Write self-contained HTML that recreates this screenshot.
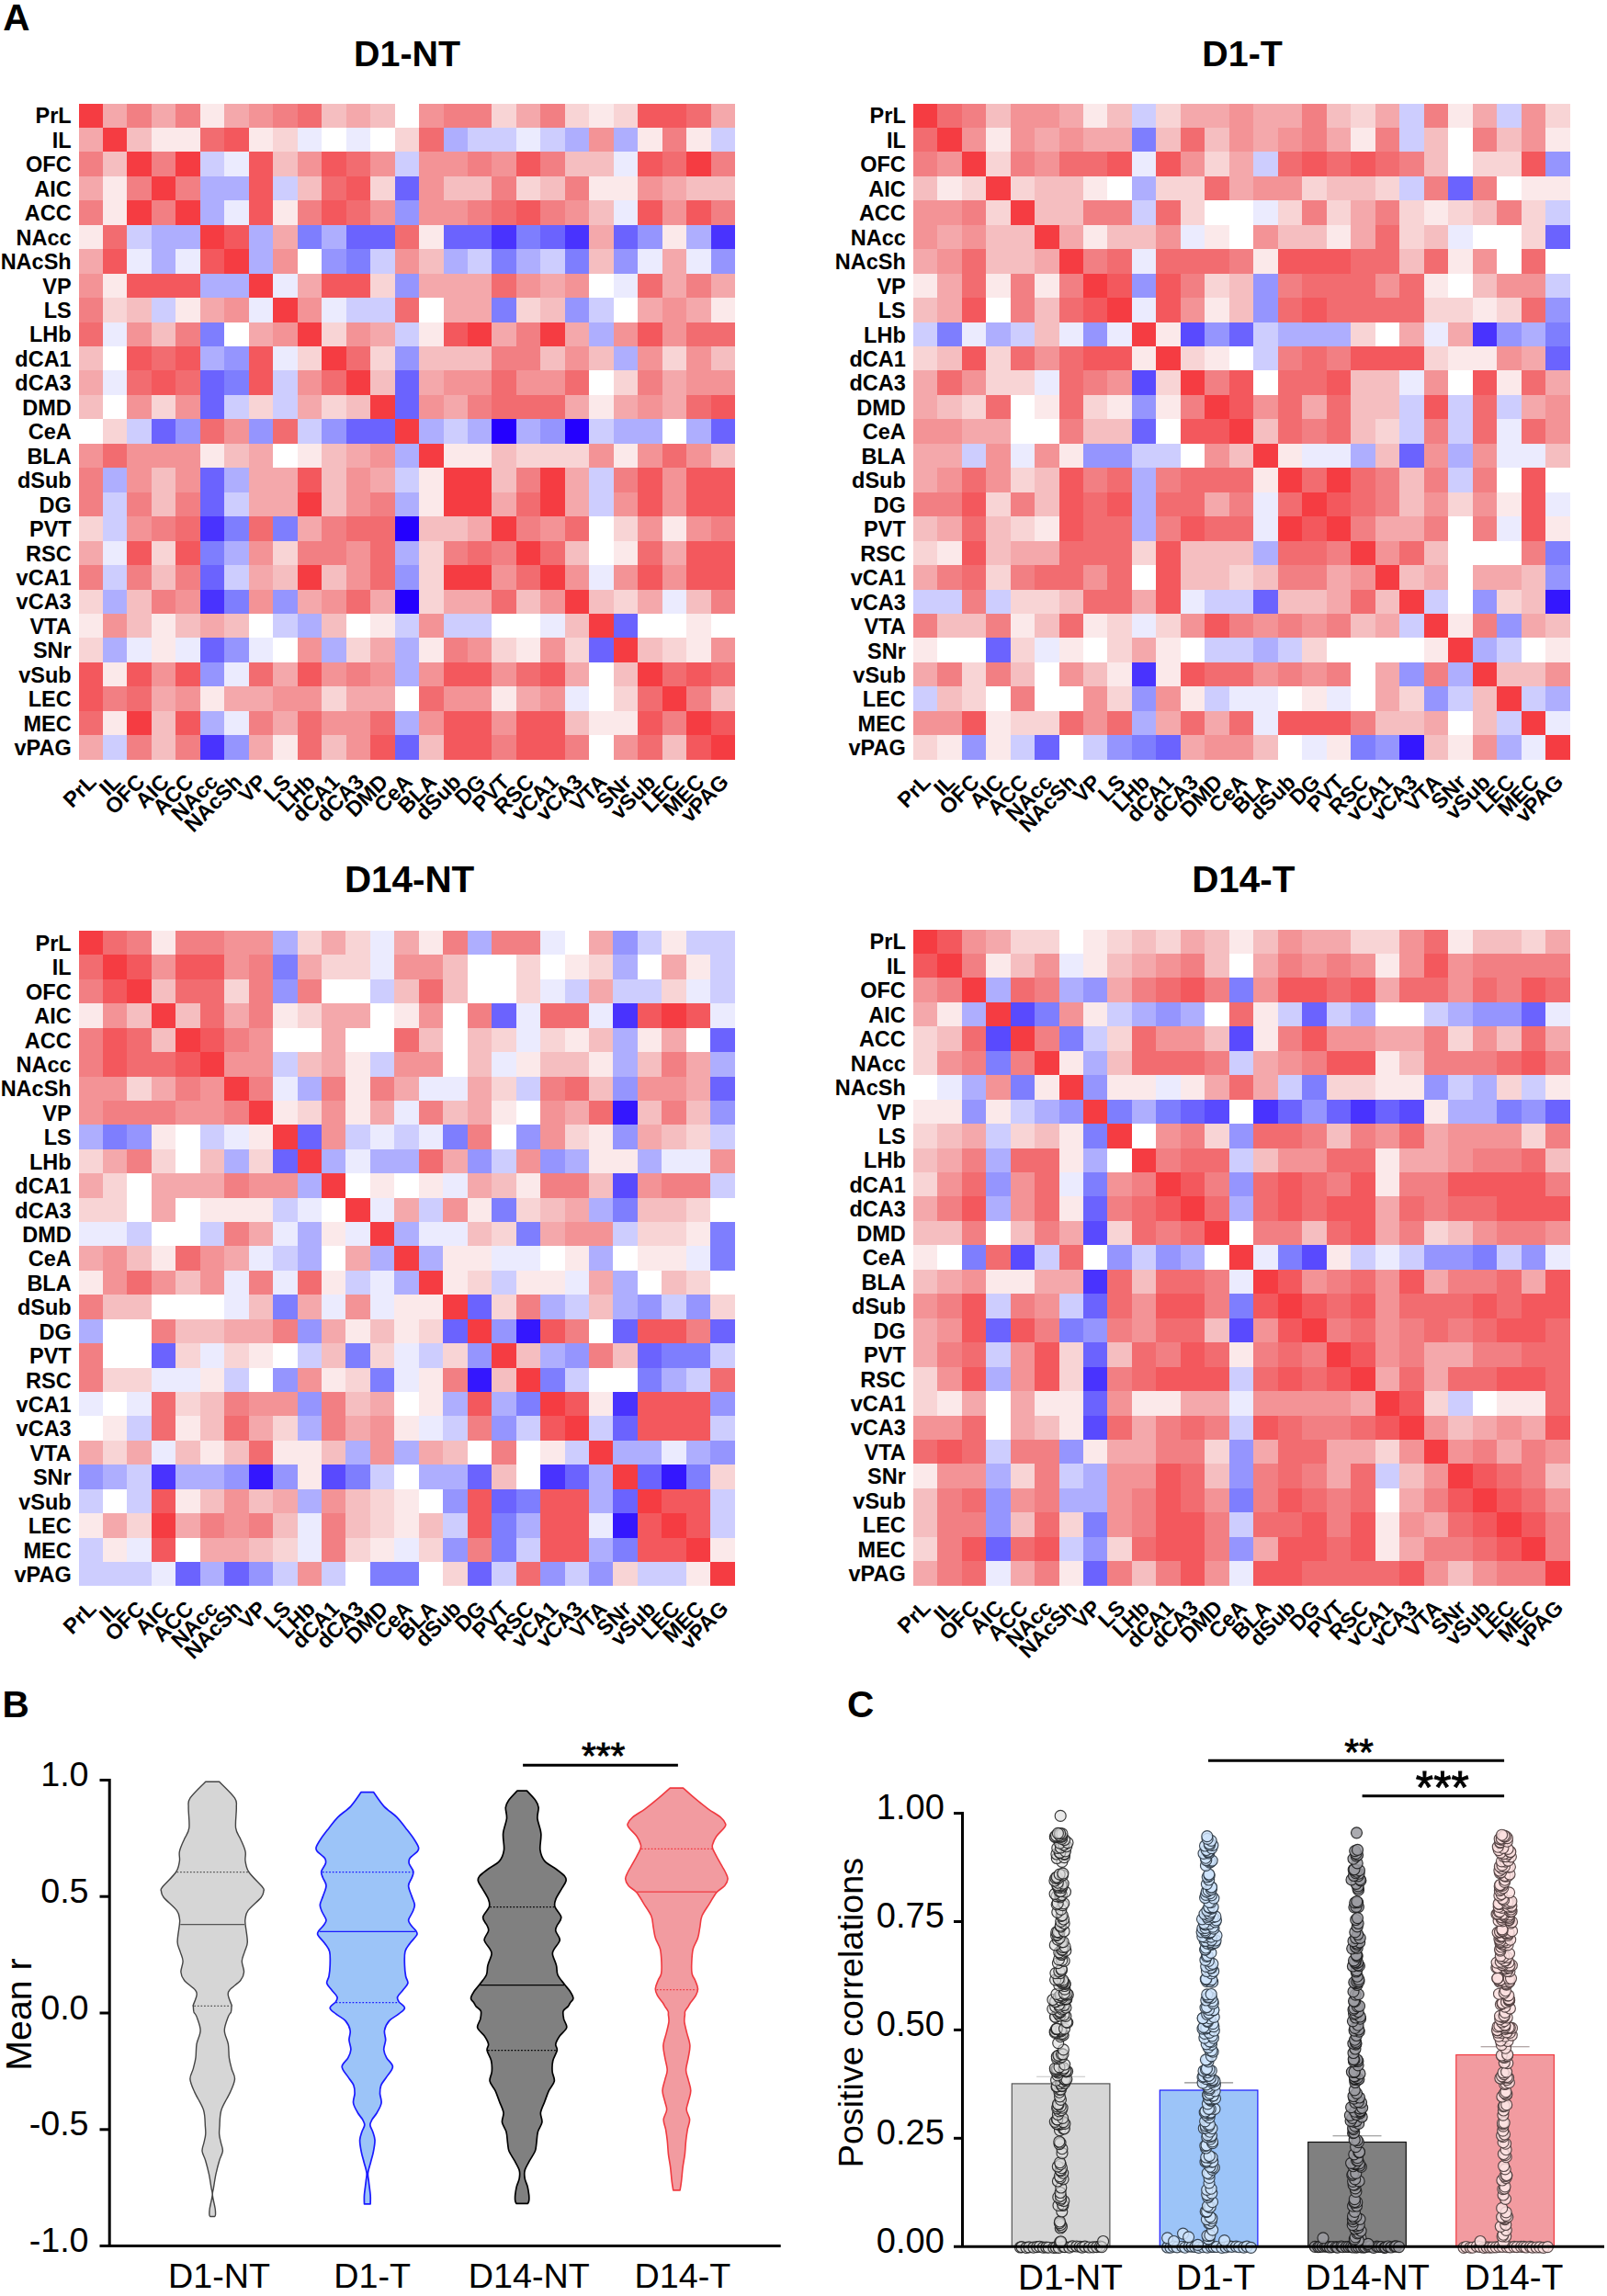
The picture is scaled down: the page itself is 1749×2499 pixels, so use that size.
<!DOCTYPE html><html><head><meta charset="utf-8"><title>Figure</title><style>
html,body{margin:0;padding:0;background:#fff}
body{width:1749px;height:2499px;position:relative;overflow:hidden;font-family:"Liberation Sans",sans-serif}
.hm{position:absolute;display:grid}
.hm i{display:block}
.n9{background:#3417fe}
.n8{background:#4933fe}
.n7{background:#594afe}
.n6{background:#6b63fe}
.n5{background:#7e7efe}
.n4{background:#9595fe}
.n3{background:#aeaefe}
.n2{background:#cdcdfe}
.n1{background:#ebebfe}
.p0{background:#ffffff}
.p1{background:#fbe9ea}
.p2{background:#f8d4d5}
.p3{background:#f5bec0}
.p4{background:#f4a8ab}
.p5{background:#f39396}
.p6{background:#f27f83}
.p7{background:#f26c70}
.p8{background:#f3585d}
.p9{background:#f53c42}
.n9x{background:#2400fe}
svg{position:absolute;left:0;top:0}
text{font-family:"Liberation Sans",sans-serif;fill:#000}
.b{font-weight:bold}
</style></head><body>
<div class="hm" style="left:85.5px;top:112.5px;width:714.800px;grid-template-columns:repeat(27,26.4741px);grid-auto-rows:26.4556px"><i class="p9"></i><i class="p4"></i><i class="p6"></i><i class="p4"></i><i class="p6"></i><i class="p1"></i><i class="p4"></i><i class="p5"></i><i class="p6"></i><i class="p7"></i><i class="p3"></i><i class="p4"></i><i class="p3"></i><i class="p0"></i><i class="p5"></i><i class="p6"></i><i class="p6"></i><i class="p2"></i><i class="p4"></i><i class="p6"></i><i class="p2"></i><i class="p1"></i><i class="p2"></i><i class="p8"></i><i class="p8"></i><i class="p7"></i><i class="p4"></i><i class="p4"></i><i class="p9"></i><i class="p3"></i><i class="p1"></i><i class="p1"></i><i class="p7"></i><i class="p8"></i><i class="p1"></i><i class="p2"></i><i class="n1"></i><i class="p0"></i><i class="n1"></i><i class="p0"></i><i class="p2"></i><i class="p7"></i><i class="n3"></i><i class="n2"></i><i class="n2"></i><i class="n1"></i><i class="n2"></i><i class="n3"></i><i class="p5"></i><i class="n3"></i><i class="p1"></i><i class="p6"></i><i class="p1"></i><i class="n2"></i><i class="p6"></i><i class="p3"></i><i class="p9"></i><i class="p6"></i><i class="p9"></i><i class="n2"></i><i class="n1"></i><i class="p8"></i><i class="p3"></i><i class="p5"></i><i class="p8"></i><i class="p7"></i><i class="p5"></i><i class="n2"></i><i class="p5"></i><i class="p5"></i><i class="p6"></i><i class="p5"></i><i class="p8"></i><i class="p6"></i><i class="p3"></i><i class="p3"></i><i class="n1"></i><i class="p8"></i><i class="p7"></i><i class="p9"></i><i class="p6"></i><i class="p4"></i><i class="p1"></i><i class="p6"></i><i class="p9"></i><i class="p6"></i><i class="n3"></i><i class="n3"></i><i class="p8"></i><i class="n2"></i><i class="p3"></i><i class="p7"></i><i class="p8"></i><i class="p2"></i><i class="n6"></i><i class="p5"></i><i class="p3"></i><i class="p3"></i><i class="p6"></i><i class="p2"></i><i class="p3"></i><i class="p6"></i><i class="p1"></i><i class="p1"></i><i class="p5"></i><i class="p4"></i><i class="p3"></i><i class="p3"></i><i class="p6"></i><i class="p1"></i><i class="p9"></i><i class="p6"></i><i class="p9"></i><i class="n3"></i><i class="n1"></i><i class="p8"></i><i class="p1"></i><i class="p6"></i><i class="p8"></i><i class="p7"></i><i class="p5"></i><i class="n4"></i><i class="p5"></i><i class="p5"></i><i class="p6"></i><i class="p7"></i><i class="p8"></i><i class="p6"></i><i class="p5"></i><i class="p3"></i><i class="n1"></i><i class="p8"></i><i class="p5"></i><i class="p8"></i><i class="p6"></i><i class="p1"></i><i class="p7"></i><i class="n2"></i><i class="n3"></i><i class="n3"></i><i class="p9"></i><i class="p8"></i><i class="n3"></i><i class="p4"></i><i class="n5"></i><i class="n3"></i><i class="n6"></i><i class="n6"></i><i class="p7"></i><i class="p1"></i><i class="n6"></i><i class="n6"></i><i class="n8"></i><i class="n5"></i><i class="n6"></i><i class="n8"></i><i class="p4"></i><i class="n6"></i><i class="n4"></i><i class="p1"></i><i class="n3"></i><i class="n8"></i><i class="p4"></i><i class="p8"></i><i class="n1"></i><i class="n3"></i><i class="n1"></i><i class="p8"></i><i class="p9"></i><i class="n3"></i><i class="p5"></i><i class="p0"></i><i class="n4"></i><i class="n5"></i><i class="n2"></i><i class="p5"></i><i class="p3"></i><i class="n3"></i><i class="n2"></i><i class="n5"></i><i class="n3"></i><i class="n2"></i><i class="n5"></i><i class="p3"></i><i class="n4"></i><i class="n1"></i><i class="p4"></i><i class="n1"></i><i class="n4"></i><i class="p5"></i><i class="p1"></i><i class="p8"></i><i class="p8"></i><i class="p8"></i><i class="n3"></i><i class="n3"></i><i class="p9"></i><i class="n1"></i><i class="p4"></i><i class="p8"></i><i class="p8"></i><i class="p2"></i><i class="n4"></i><i class="p4"></i><i class="p4"></i><i class="p4"></i><i class="p7"></i><i class="p5"></i><i class="p4"></i><i class="p5"></i><i class="p0"></i><i class="n1"></i><i class="p7"></i><i class="p4"></i><i class="p6"></i><i class="p4"></i><i class="p6"></i><i class="p2"></i><i class="p3"></i><i class="n2"></i><i class="p1"></i><i class="p4"></i><i class="p5"></i><i class="n1"></i><i class="p9"></i><i class="p5"></i><i class="n1"></i><i class="n2"></i><i class="n2"></i><i class="p7"></i><i class="p0"></i><i class="p4"></i><i class="p4"></i><i class="n5"></i><i class="p2"></i><i class="p3"></i><i class="n4"></i><i class="n2"></i><i class="p0"></i><i class="p4"></i><i class="p5"></i><i class="p4"></i><i class="p1"></i><i class="p7"></i><i class="n1"></i><i class="p5"></i><i class="p3"></i><i class="p6"></i><i class="n5"></i><i class="p0"></i><i class="p4"></i><i class="p5"></i><i class="p9"></i><i class="p2"></i><i class="p5"></i><i class="p4"></i><i class="n2"></i><i class="p1"></i><i class="p8"></i><i class="p9"></i><i class="p4"></i><i class="p6"></i><i class="p9"></i><i class="p4"></i><i class="n3"></i><i class="p5"></i><i class="p8"></i><i class="p5"></i><i class="p7"></i><i class="p7"></i><i class="p3"></i><i class="p0"></i><i class="p8"></i><i class="p7"></i><i class="p8"></i><i class="n3"></i><i class="n4"></i><i class="p8"></i><i class="n1"></i><i class="p2"></i><i class="p9"></i><i class="p7"></i><i class="p2"></i><i class="n4"></i><i class="p3"></i><i class="p3"></i><i class="p3"></i><i class="p6"></i><i class="p6"></i><i class="p3"></i><i class="p5"></i><i class="p3"></i><i class="n3"></i><i class="p5"></i><i class="p2"></i><i class="p5"></i><i class="p3"></i><i class="p4"></i><i class="n1"></i><i class="p7"></i><i class="p8"></i><i class="p7"></i><i class="n6"></i><i class="n5"></i><i class="p8"></i><i class="n2"></i><i class="p5"></i><i class="p7"></i><i class="p9"></i><i class="p3"></i><i class="n6"></i><i class="p4"></i><i class="p5"></i><i class="p5"></i><i class="p7"></i><i class="p5"></i><i class="p5"></i><i class="p7"></i><i class="p0"></i><i class="p2"></i><i class="p6"></i><i class="p4"></i><i class="p5"></i><i class="p5"></i><i class="p3"></i><i class="p0"></i><i class="p5"></i><i class="p2"></i><i class="p5"></i><i class="n6"></i><i class="n2"></i><i class="p2"></i><i class="n2"></i><i class="p4"></i><i class="p2"></i><i class="p3"></i><i class="p9"></i><i class="n6"></i><i class="p5"></i><i class="p4"></i><i class="p6"></i><i class="p7"></i><i class="p7"></i><i class="p7"></i><i class="p4"></i><i class="p1"></i><i class="p4"></i><i class="p5"></i><i class="p4"></i><i class="p7"></i><i class="p8"></i><i class="p0"></i><i class="p2"></i><i class="n2"></i><i class="n6"></i><i class="n4"></i><i class="p7"></i><i class="p5"></i><i class="n4"></i><i class="p7"></i><i class="n2"></i><i class="n4"></i><i class="n6"></i><i class="n6"></i><i class="p9"></i><i class="n3"></i><i class="n2"></i><i class="n3"></i><i class="n9x"></i><i class="n3"></i><i class="n4"></i><i class="n9x"></i><i class="n2"></i><i class="n3"></i><i class="n3"></i><i class="p0"></i><i class="n3"></i><i class="n6"></i><i class="p5"></i><i class="p7"></i><i class="p5"></i><i class="p5"></i><i class="p5"></i><i class="p1"></i><i class="p3"></i><i class="p4"></i><i class="p0"></i><i class="p1"></i><i class="p3"></i><i class="p4"></i><i class="p5"></i><i class="n3"></i><i class="p9"></i><i class="p1"></i><i class="p1"></i><i class="p3"></i><i class="p2"></i><i class="p2"></i><i class="p2"></i><i class="p5"></i><i class="p1"></i><i class="p5"></i><i class="p7"></i><i class="p5"></i><i class="p3"></i><i class="p6"></i><i class="n3"></i><i class="p5"></i><i class="p3"></i><i class="p5"></i><i class="n6"></i><i class="n3"></i><i class="p4"></i><i class="p4"></i><i class="p8"></i><i class="p3"></i><i class="p5"></i><i class="p4"></i><i class="n2"></i><i class="p1"></i><i class="p9"></i><i class="p9"></i><i class="p3"></i><i class="p6"></i><i class="p9"></i><i class="p4"></i><i class="n2"></i><i class="p6"></i><i class="p8"></i><i class="p5"></i><i class="p8"></i><i class="p8"></i><i class="p6"></i><i class="n2"></i><i class="p6"></i><i class="p3"></i><i class="p6"></i><i class="n6"></i><i class="n2"></i><i class="p4"></i><i class="p4"></i><i class="p9"></i><i class="p3"></i><i class="p5"></i><i class="p6"></i><i class="n3"></i><i class="p1"></i><i class="p9"></i><i class="p9"></i><i class="p4"></i><i class="p7"></i><i class="p9"></i><i class="p4"></i><i class="n2"></i><i class="p5"></i><i class="p8"></i><i class="p5"></i><i class="p8"></i><i class="p8"></i><i class="p2"></i><i class="n2"></i><i class="p5"></i><i class="p6"></i><i class="p7"></i><i class="n8"></i><i class="n5"></i><i class="p7"></i><i class="n5"></i><i class="p4"></i><i class="p6"></i><i class="p7"></i><i class="p7"></i><i class="n9x"></i><i class="p3"></i><i class="p3"></i><i class="p4"></i><i class="p9"></i><i class="p6"></i><i class="p5"></i><i class="p7"></i><i class="p0"></i><i class="p2"></i><i class="p5"></i><i class="p1"></i><i class="p5"></i><i class="p6"></i><i class="p4"></i><i class="n1"></i><i class="p8"></i><i class="p2"></i><i class="p8"></i><i class="n5"></i><i class="n3"></i><i class="p5"></i><i class="p2"></i><i class="p6"></i><i class="p6"></i><i class="p5"></i><i class="p7"></i><i class="n3"></i><i class="p2"></i><i class="p6"></i><i class="p7"></i><i class="p6"></i><i class="p9"></i><i class="p7"></i><i class="p3"></i><i class="p0"></i><i class="p1"></i><i class="p7"></i><i class="p4"></i><i class="p8"></i><i class="p8"></i><i class="p6"></i><i class="n2"></i><i class="p6"></i><i class="p3"></i><i class="p6"></i><i class="n6"></i><i class="n2"></i><i class="p4"></i><i class="p3"></i><i class="p9"></i><i class="p3"></i><i class="p5"></i><i class="p7"></i><i class="n4"></i><i class="p2"></i><i class="p9"></i><i class="p9"></i><i class="p5"></i><i class="p7"></i><i class="p9"></i><i class="p5"></i><i class="n1"></i><i class="p5"></i><i class="p8"></i><i class="p5"></i><i class="p8"></i><i class="p8"></i><i class="p2"></i><i class="n3"></i><i class="p3"></i><i class="p6"></i><i class="p5"></i><i class="n8"></i><i class="n5"></i><i class="p5"></i><i class="n4"></i><i class="p4"></i><i class="p5"></i><i class="p7"></i><i class="p4"></i><i class="n9x"></i><i class="p2"></i><i class="p4"></i><i class="p4"></i><i class="p7"></i><i class="p3"></i><i class="p5"></i><i class="p9"></i><i class="p3"></i><i class="p2"></i><i class="p4"></i><i class="n1"></i><i class="p3"></i><i class="p6"></i><i class="p1"></i><i class="p5"></i><i class="p3"></i><i class="p1"></i><i class="p3"></i><i class="p4"></i><i class="p3"></i><i class="p0"></i><i class="n2"></i><i class="n3"></i><i class="p3"></i><i class="p0"></i><i class="p1"></i><i class="n2"></i><i class="p5"></i><i class="n2"></i><i class="n2"></i><i class="p0"></i><i class="p0"></i><i class="n1"></i><i class="p3"></i><i class="p9"></i><i class="n6"></i><i class="p0"></i><i class="p0"></i><i class="p1"></i><i class="p0"></i><i class="p2"></i><i class="n3"></i><i class="n1"></i><i class="p1"></i><i class="n1"></i><i class="n6"></i><i class="n4"></i><i class="n1"></i><i class="p0"></i><i class="p5"></i><i class="n3"></i><i class="p2"></i><i class="p4"></i><i class="n3"></i><i class="p1"></i><i class="p6"></i><i class="p5"></i><i class="p2"></i><i class="p1"></i><i class="p5"></i><i class="p2"></i><i class="n6"></i><i class="p9"></i><i class="p3"></i><i class="p2"></i><i class="p1"></i><i class="p5"></i><i class="p8"></i><i class="p1"></i><i class="p8"></i><i class="p5"></i><i class="p8"></i><i class="n4"></i><i class="n1"></i><i class="p7"></i><i class="p4"></i><i class="p8"></i><i class="p5"></i><i class="p6"></i><i class="p5"></i><i class="n3"></i><i class="p5"></i><i class="p8"></i><i class="p8"></i><i class="p5"></i><i class="p7"></i><i class="p8"></i><i class="p4"></i><i class="p0"></i><i class="p3"></i><i class="p9"></i><i class="p7"></i><i class="p8"></i><i class="p7"></i><i class="p8"></i><i class="p6"></i><i class="p7"></i><i class="p4"></i><i class="p5"></i><i class="p1"></i><i class="p4"></i><i class="p4"></i><i class="p5"></i><i class="p5"></i><i class="p2"></i><i class="p4"></i><i class="p4"></i><i class="p0"></i><i class="p7"></i><i class="p5"></i><i class="p5"></i><i class="p1"></i><i class="p4"></i><i class="p5"></i><i class="n1"></i><i class="p0"></i><i class="p2"></i><i class="p7"></i><i class="p9"></i><i class="p6"></i><i class="p3"></i><i class="p7"></i><i class="p1"></i><i class="p9"></i><i class="p3"></i><i class="p8"></i><i class="n3"></i><i class="n1"></i><i class="p6"></i><i class="p4"></i><i class="p7"></i><i class="p5"></i><i class="p5"></i><i class="p7"></i><i class="n3"></i><i class="p5"></i><i class="p8"></i><i class="p8"></i><i class="p5"></i><i class="p8"></i><i class="p8"></i><i class="p3"></i><i class="p1"></i><i class="p1"></i><i class="p8"></i><i class="p6"></i><i class="p9"></i><i class="p8"></i><i class="p4"></i><i class="n2"></i><i class="p6"></i><i class="p3"></i><i class="p6"></i><i class="n8"></i><i class="n4"></i><i class="p4"></i><i class="p1"></i><i class="p7"></i><i class="p3"></i><i class="p5"></i><i class="p8"></i><i class="n6"></i><i class="p3"></i><i class="p8"></i><i class="p8"></i><i class="p6"></i><i class="p8"></i><i class="p8"></i><i class="p6"></i><i class="p0"></i><i class="p5"></i><i class="p7"></i><i class="p3"></i><i class="p8"></i><i class="p9"></i></div>
<div class="hm" style="left:993.6px;top:112.5px;width:715.100px;grid-template-columns:repeat(27,26.4852px);grid-auto-rows:26.4630px"><i class="p9"></i><i class="p7"></i><i class="p6"></i><i class="p3"></i><i class="p5"></i><i class="p5"></i><i class="p4"></i><i class="p1"></i><i class="p3"></i><i class="n2"></i><i class="p2"></i><i class="p4"></i><i class="p4"></i><i class="p5"></i><i class="p4"></i><i class="p4"></i><i class="p6"></i><i class="p3"></i><i class="p2"></i><i class="p4"></i><i class="n2"></i><i class="p6"></i><i class="p1"></i><i class="p4"></i><i class="n2"></i><i class="p5"></i><i class="p2"></i><i class="p7"></i><i class="p9"></i><i class="p5"></i><i class="p1"></i><i class="p5"></i><i class="p4"></i><i class="p5"></i><i class="p4"></i><i class="p4"></i><i class="n5"></i><i class="p3"></i><i class="p7"></i><i class="p3"></i><i class="p5"></i><i class="p4"></i><i class="p5"></i><i class="p6"></i><i class="p4"></i><i class="p1"></i><i class="p6"></i><i class="n2"></i><i class="p3"></i><i class="p0"></i><i class="p6"></i><i class="p3"></i><i class="p5"></i><i class="p1"></i><i class="p6"></i><i class="p5"></i><i class="p9"></i><i class="p2"></i><i class="p6"></i><i class="p5"></i><i class="p7"></i><i class="p7"></i><i class="p8"></i><i class="n1"></i><i class="p8"></i><i class="p5"></i><i class="p2"></i><i class="p4"></i><i class="n2"></i><i class="p7"></i><i class="p8"></i><i class="p7"></i><i class="p8"></i><i class="p7"></i><i class="p6"></i><i class="p3"></i><i class="p0"></i><i class="p2"></i><i class="p2"></i><i class="p8"></i><i class="n4"></i><i class="p3"></i><i class="p1"></i><i class="p2"></i><i class="p9"></i><i class="p2"></i><i class="p3"></i><i class="p3"></i><i class="p1"></i><i class="p0"></i><i class="n3"></i><i class="p2"></i><i class="p2"></i><i class="p7"></i><i class="p4"></i><i class="p5"></i><i class="p5"></i><i class="p2"></i><i class="p3"></i><i class="p3"></i><i class="p2"></i><i class="n2"></i><i class="p6"></i><i class="n6"></i><i class="p6"></i><i class="p0"></i><i class="p1"></i><i class="p1"></i><i class="p5"></i><i class="p5"></i><i class="p6"></i><i class="p2"></i><i class="p9"></i><i class="p3"></i><i class="p3"></i><i class="p6"></i><i class="p6"></i><i class="n2"></i><i class="p7"></i><i class="p2"></i><i class="p0"></i><i class="p0"></i><i class="n1"></i><i class="p2"></i><i class="p6"></i><i class="p2"></i><i class="p4"></i><i class="p6"></i><i class="p2"></i><i class="p1"></i><i class="p2"></i><i class="p3"></i><i class="p6"></i><i class="p2"></i><i class="n2"></i><i class="p5"></i><i class="p4"></i><i class="p5"></i><i class="p3"></i><i class="p3"></i><i class="p9"></i><i class="p4"></i><i class="p1"></i><i class="p3"></i><i class="p3"></i><i class="p5"></i><i class="n1"></i><i class="p1"></i><i class="p0"></i><i class="p5"></i><i class="p3"></i><i class="p3"></i><i class="p1"></i><i class="p4"></i><i class="p7"></i><i class="p2"></i><i class="p3"></i><i class="n1"></i><i class="p0"></i><i class="p0"></i><i class="p2"></i><i class="n6"></i><i class="p4"></i><i class="p5"></i><i class="p7"></i><i class="p3"></i><i class="p3"></i><i class="p4"></i><i class="p9"></i><i class="p6"></i><i class="p7"></i><i class="n1"></i><i class="p7"></i><i class="p7"></i><i class="p7"></i><i class="p6"></i><i class="p1"></i><i class="p8"></i><i class="p8"></i><i class="p8"></i><i class="p7"></i><i class="p7"></i><i class="p3"></i><i class="p7"></i><i class="p1"></i><i class="p5"></i><i class="p0"></i><i class="p7"></i><i class="p0"></i><i class="p1"></i><i class="p4"></i><i class="p7"></i><i class="p1"></i><i class="p6"></i><i class="p1"></i><i class="p6"></i><i class="p9"></i><i class="p8"></i><i class="n4"></i><i class="p8"></i><i class="p6"></i><i class="p2"></i><i class="p3"></i><i class="n4"></i><i class="p6"></i><i class="p7"></i><i class="p7"></i><i class="p7"></i><i class="p5"></i><i class="p7"></i><i class="p1"></i><i class="p0"></i><i class="p3"></i><i class="p5"></i><i class="p5"></i><i class="n2"></i><i class="p3"></i><i class="p4"></i><i class="p8"></i><i class="p0"></i><i class="p6"></i><i class="p3"></i><i class="p7"></i><i class="p8"></i><i class="p9"></i><i class="n1"></i><i class="p8"></i><i class="p5"></i><i class="p1"></i><i class="p3"></i><i class="n4"></i><i class="p7"></i><i class="p8"></i><i class="p7"></i><i class="p7"></i><i class="p7"></i><i class="p7"></i><i class="p2"></i><i class="p2"></i><i class="p1"></i><i class="p2"></i><i class="p7"></i><i class="n4"></i><i class="n2"></i><i class="n5"></i><i class="n1"></i><i class="n3"></i><i class="n2"></i><i class="p3"></i><i class="n1"></i><i class="n4"></i><i class="n1"></i><i class="p9"></i><i class="p1"></i><i class="n7"></i><i class="n4"></i><i class="n6"></i><i class="n2"></i><i class="n3"></i><i class="n3"></i><i class="n3"></i><i class="p2"></i><i class="p0"></i><i class="p4"></i><i class="n1"></i><i class="p4"></i><i class="n8"></i><i class="n4"></i><i class="n3"></i><i class="n5"></i><i class="p2"></i><i class="p3"></i><i class="p8"></i><i class="p2"></i><i class="p7"></i><i class="p5"></i><i class="p7"></i><i class="p8"></i><i class="p8"></i><i class="p1"></i><i class="p9"></i><i class="p2"></i><i class="p1"></i><i class="p0"></i><i class="n2"></i><i class="p6"></i><i class="p7"></i><i class="p6"></i><i class="p8"></i><i class="p8"></i><i class="p8"></i><i class="p2"></i><i class="p1"></i><i class="p1"></i><i class="p5"></i><i class="p4"></i><i class="n6"></i><i class="p4"></i><i class="p7"></i><i class="p5"></i><i class="p2"></i><i class="p2"></i><i class="n1"></i><i class="p7"></i><i class="p6"></i><i class="p5"></i><i class="n7"></i><i class="p2"></i><i class="p9"></i><i class="p6"></i><i class="p8"></i><i class="p0"></i><i class="p7"></i><i class="p7"></i><i class="p8"></i><i class="p3"></i><i class="p3"></i><i class="n1"></i><i class="p5"></i><i class="p0"></i><i class="p8"></i><i class="p1"></i><i class="p7"></i><i class="p4"></i><i class="p4"></i><i class="p3"></i><i class="p2"></i><i class="p7"></i><i class="p0"></i><i class="p1"></i><i class="p7"></i><i class="p2"></i><i class="p1"></i><i class="n4"></i><i class="p1"></i><i class="p6"></i><i class="p9"></i><i class="p8"></i><i class="p5"></i><i class="p7"></i><i class="p4"></i><i class="p7"></i><i class="p3"></i><i class="p3"></i><i class="n2"></i><i class="p8"></i><i class="n2"></i><i class="p7"></i><i class="n2"></i><i class="p4"></i><i class="p5"></i><i class="p5"></i><i class="p5"></i><i class="p4"></i><i class="p4"></i><i class="p0"></i><i class="p0"></i><i class="p6"></i><i class="p3"></i><i class="p3"></i><i class="n6"></i><i class="p0"></i><i class="p8"></i><i class="p8"></i><i class="p9"></i><i class="p3"></i><i class="p7"></i><i class="p6"></i><i class="p7"></i><i class="p3"></i><i class="p2"></i><i class="n2"></i><i class="p6"></i><i class="n2"></i><i class="p7"></i><i class="n1"></i><i class="p7"></i><i class="p5"></i><i class="p4"></i><i class="p4"></i><i class="n2"></i><i class="p5"></i><i class="n1"></i><i class="p5"></i><i class="p1"></i><i class="n4"></i><i class="n4"></i><i class="n2"></i><i class="n2"></i><i class="p0"></i><i class="p5"></i><i class="p3"></i><i class="p9"></i><i class="p1"></i><i class="n1"></i><i class="n1"></i><i class="n3"></i><i class="p3"></i><i class="n6"></i><i class="p5"></i><i class="n3"></i><i class="p5"></i><i class="n1"></i><i class="n1"></i><i class="p3"></i><i class="p4"></i><i class="p5"></i><i class="p7"></i><i class="p5"></i><i class="p2"></i><i class="p3"></i><i class="p8"></i><i class="p6"></i><i class="p7"></i><i class="n3"></i><i class="p6"></i><i class="p7"></i><i class="p7"></i><i class="p7"></i><i class="p1"></i><i class="p9"></i><i class="p7"></i><i class="p9"></i><i class="p7"></i><i class="p6"></i><i class="p3"></i><i class="p6"></i><i class="n2"></i><i class="p6"></i><i class="p0"></i><i class="p8"></i><i class="p0"></i><i class="p6"></i><i class="p6"></i><i class="p8"></i><i class="p2"></i><i class="p6"></i><i class="p3"></i><i class="p8"></i><i class="p7"></i><i class="p8"></i><i class="n3"></i><i class="p7"></i><i class="p7"></i><i class="p4"></i><i class="p6"></i><i class="n1"></i><i class="p7"></i><i class="p9"></i><i class="p8"></i><i class="p7"></i><i class="p6"></i><i class="p3"></i><i class="p5"></i><i class="p2"></i><i class="p5"></i><i class="p1"></i><i class="p8"></i><i class="n1"></i><i class="p3"></i><i class="p4"></i><i class="p7"></i><i class="p3"></i><i class="p2"></i><i class="p1"></i><i class="p8"></i><i class="p7"></i><i class="p7"></i><i class="n3"></i><i class="p6"></i><i class="p8"></i><i class="p7"></i><i class="p7"></i><i class="n1"></i><i class="p9"></i><i class="p8"></i><i class="p9"></i><i class="p6"></i><i class="p4"></i><i class="p4"></i><i class="p6"></i><i class="p0"></i><i class="p6"></i><i class="n1"></i><i class="p8"></i><i class="p1"></i><i class="p2"></i><i class="p1"></i><i class="p8"></i><i class="p3"></i><i class="p4"></i><i class="p4"></i><i class="p7"></i><i class="p7"></i><i class="p7"></i><i class="p2"></i><i class="p8"></i><i class="p3"></i><i class="p3"></i><i class="p3"></i><i class="n3"></i><i class="p7"></i><i class="p7"></i><i class="p6"></i><i class="p9"></i><i class="p5"></i><i class="p7"></i><i class="p3"></i><i class="p0"></i><i class="p0"></i><i class="p0"></i><i class="p6"></i><i class="n5"></i><i class="p4"></i><i class="p6"></i><i class="p7"></i><i class="p2"></i><i class="p6"></i><i class="p7"></i><i class="p7"></i><i class="p5"></i><i class="p7"></i><i class="p0"></i><i class="p8"></i><i class="p3"></i><i class="p3"></i><i class="p2"></i><i class="p3"></i><i class="p6"></i><i class="p6"></i><i class="p4"></i><i class="p5"></i><i class="p9"></i><i class="p3"></i><i class="p4"></i><i class="p0"></i><i class="p4"></i><i class="p4"></i><i class="p3"></i><i class="n4"></i><i class="n2"></i><i class="n2"></i><i class="p6"></i><i class="n2"></i><i class="p2"></i><i class="p2"></i><i class="p3"></i><i class="p7"></i><i class="p7"></i><i class="p4"></i><i class="p8"></i><i class="n1"></i><i class="n2"></i><i class="n2"></i><i class="n6"></i><i class="p3"></i><i class="p3"></i><i class="p4"></i><i class="p7"></i><i class="p3"></i><i class="p9"></i><i class="n2"></i><i class="p0"></i><i class="n4"></i><i class="p2"></i><i class="p3"></i><i class="n9"></i><i class="p6"></i><i class="p3"></i><i class="p3"></i><i class="p6"></i><i class="p1"></i><i class="p3"></i><i class="p7"></i><i class="p1"></i><i class="p2"></i><i class="n1"></i><i class="p2"></i><i class="p5"></i><i class="p8"></i><i class="p6"></i><i class="p5"></i><i class="p6"></i><i class="p5"></i><i class="p6"></i><i class="p3"></i><i class="p4"></i><i class="n2"></i><i class="p9"></i><i class="p1"></i><i class="p6"></i><i class="n4"></i><i class="p4"></i><i class="p3"></i><i class="p1"></i><i class="p0"></i><i class="p0"></i><i class="n6"></i><i class="p2"></i><i class="n1"></i><i class="p1"></i><i class="p0"></i><i class="p2"></i><i class="p4"></i><i class="p1"></i><i class="p0"></i><i class="n2"></i><i class="n2"></i><i class="n3"></i><i class="n2"></i><i class="p2"></i><i class="p0"></i><i class="p0"></i><i class="p0"></i><i class="p0"></i><i class="p1"></i><i class="p9"></i><i class="n3"></i><i class="n2"></i><i class="p0"></i><i class="p1"></i><i class="p4"></i><i class="p6"></i><i class="p2"></i><i class="p6"></i><i class="p3"></i><i class="p0"></i><i class="p5"></i><i class="p3"></i><i class="p1"></i><i class="n8"></i><i class="p1"></i><i class="p8"></i><i class="p7"></i><i class="p7"></i><i class="p5"></i><i class="p6"></i><i class="p5"></i><i class="p6"></i><i class="p0"></i><i class="p4"></i><i class="n4"></i><i class="p6"></i><i class="n3"></i><i class="p9"></i><i class="p3"></i><i class="p3"></i><i class="p5"></i><i class="n2"></i><i class="p3"></i><i class="p2"></i><i class="p0"></i><i class="p6"></i><i class="p0"></i><i class="p0"></i><i class="p5"></i><i class="p2"></i><i class="n4"></i><i class="p5"></i><i class="p1"></i><i class="n2"></i><i class="n1"></i><i class="n1"></i><i class="p0"></i><i class="p1"></i><i class="n1"></i><i class="p0"></i><i class="p4"></i><i class="p2"></i><i class="n4"></i><i class="n2"></i><i class="p3"></i><i class="p9"></i><i class="n2"></i><i class="n3"></i><i class="p5"></i><i class="p5"></i><i class="p8"></i><i class="p1"></i><i class="p2"></i><i class="p2"></i><i class="p7"></i><i class="p5"></i><i class="p7"></i><i class="n3"></i><i class="p4"></i><i class="p7"></i><i class="p4"></i><i class="p7"></i><i class="n1"></i><i class="p8"></i><i class="p8"></i><i class="p8"></i><i class="p6"></i><i class="p3"></i><i class="p3"></i><i class="p4"></i><i class="p0"></i><i class="p3"></i><i class="n2"></i><i class="p9"></i><i class="n1"></i><i class="p2"></i><i class="p1"></i><i class="n4"></i><i class="p1"></i><i class="n2"></i><i class="n6"></i><i class="p0"></i><i class="n2"></i><i class="n4"></i><i class="n5"></i><i class="n6"></i><i class="p4"></i><i class="p5"></i><i class="p5"></i><i class="p3"></i><i class="p0"></i><i class="n1"></i><i class="p1"></i><i class="n5"></i><i class="n4"></i><i class="n9"></i><i class="p3"></i><i class="p1"></i><i class="p5"></i><i class="n3"></i><i class="n1"></i><i class="p9"></i></div>
<div class="hm" style="left:85.5px;top:1013.0px;width:714.600px;grid-template-columns:repeat(27,26.4667px);grid-auto-rows:26.4296px"><i class="p9"></i><i class="p7"></i><i class="p6"></i><i class="p1"></i><i class="p6"></i><i class="p6"></i><i class="p5"></i><i class="p5"></i><i class="n3"></i><i class="p2"></i><i class="p4"></i><i class="p2"></i><i class="n1"></i><i class="p4"></i><i class="p1"></i><i class="p6"></i><i class="n3"></i><i class="p6"></i><i class="p6"></i><i class="n1"></i><i class="p0"></i><i class="p4"></i><i class="n4"></i><i class="n2"></i><i class="p1"></i><i class="n2"></i><i class="n2"></i><i class="p7"></i><i class="p9"></i><i class="p8"></i><i class="p5"></i><i class="p8"></i><i class="p8"></i><i class="p5"></i><i class="p6"></i><i class="n5"></i><i class="p4"></i><i class="p2"></i><i class="p2"></i><i class="n1"></i><i class="p5"></i><i class="p5"></i><i class="p3"></i><i class="p0"></i><i class="p0"></i><i class="p2"></i><i class="p0"></i><i class="p1"></i><i class="p2"></i><i class="n3"></i><i class="p0"></i><i class="p4"></i><i class="p1"></i><i class="n2"></i><i class="p6"></i><i class="p8"></i><i class="p9"></i><i class="p3"></i><i class="p7"></i><i class="p7"></i><i class="p2"></i><i class="p6"></i><i class="n4"></i><i class="p6"></i><i class="p0"></i><i class="p0"></i><i class="n2"></i><i class="p3"></i><i class="p7"></i><i class="p3"></i><i class="p0"></i><i class="p0"></i><i class="p2"></i><i class="n1"></i><i class="n2"></i><i class="p4"></i><i class="n2"></i><i class="n2"></i><i class="p2"></i><i class="n1"></i><i class="n2"></i><i class="p1"></i><i class="p5"></i><i class="p3"></i><i class="p9"></i><i class="p3"></i><i class="p7"></i><i class="p4"></i><i class="p6"></i><i class="p1"></i><i class="p2"></i><i class="p4"></i><i class="p4"></i><i class="p0"></i><i class="p1"></i><i class="p5"></i><i class="p0"></i><i class="p6"></i><i class="n6"></i><i class="n1"></i><i class="p7"></i><i class="p7"></i><i class="n1"></i><i class="n8"></i><i class="p8"></i><i class="p9"></i><i class="p8"></i><i class="n1"></i><i class="p6"></i><i class="p8"></i><i class="p7"></i><i class="p3"></i><i class="p9"></i><i class="p8"></i><i class="p6"></i><i class="p5"></i><i class="p0"></i><i class="p0"></i><i class="p4"></i><i class="p0"></i><i class="p0"></i><i class="p7"></i><i class="p3"></i><i class="p0"></i><i class="p3"></i><i class="p2"></i><i class="n1"></i><i class="p2"></i><i class="p1"></i><i class="p3"></i><i class="n3"></i><i class="p1"></i><i class="p4"></i><i class="p0"></i><i class="n6"></i><i class="p6"></i><i class="p8"></i><i class="p7"></i><i class="p7"></i><i class="p8"></i><i class="p9"></i><i class="p5"></i><i class="p5"></i><i class="n2"></i><i class="p3"></i><i class="p4"></i><i class="p1"></i><i class="n2"></i><i class="p5"></i><i class="p5"></i><i class="p0"></i><i class="p3"></i><i class="n1"></i><i class="p1"></i><i class="p3"></i><i class="p3"></i><i class="p1"></i><i class="n3"></i><i class="p3"></i><i class="p6"></i><i class="p4"></i><i class="n3"></i><i class="p5"></i><i class="p5"></i><i class="p2"></i><i class="p4"></i><i class="p6"></i><i class="p5"></i><i class="p9"></i><i class="p6"></i><i class="n1"></i><i class="n3"></i><i class="p6"></i><i class="p1"></i><i class="p6"></i><i class="p4"></i><i class="n1"></i><i class="n1"></i><i class="p4"></i><i class="p2"></i><i class="n2"></i><i class="p6"></i><i class="p7"></i><i class="p3"></i><i class="n4"></i><i class="p5"></i><i class="p5"></i><i class="p4"></i><i class="n6"></i><i class="p5"></i><i class="p6"></i><i class="p6"></i><i class="p6"></i><i class="p5"></i><i class="p5"></i><i class="p6"></i><i class="p9"></i><i class="p1"></i><i class="p2"></i><i class="p5"></i><i class="p1"></i><i class="p4"></i><i class="n1"></i><i class="p6"></i><i class="p3"></i><i class="p4"></i><i class="p1"></i><i class="p0"></i><i class="p5"></i><i class="p4"></i><i class="p7"></i><i class="n9"></i><i class="p3"></i><i class="p6"></i><i class="p3"></i><i class="n4"></i><i class="n3"></i><i class="n5"></i><i class="n4"></i><i class="p1"></i><i class="p0"></i><i class="n2"></i><i class="n1"></i><i class="p1"></i><i class="p9"></i><i class="n6"></i><i class="p5"></i><i class="n2"></i><i class="n1"></i><i class="n2"></i><i class="n1"></i><i class="n5"></i><i class="p6"></i><i class="p0"></i><i class="n4"></i><i class="p5"></i><i class="p2"></i><i class="p1"></i><i class="n4"></i><i class="p4"></i><i class="p3"></i><i class="p2"></i><i class="n2"></i><i class="p2"></i><i class="p4"></i><i class="p6"></i><i class="p2"></i><i class="p0"></i><i class="p3"></i><i class="n3"></i><i class="p2"></i><i class="n6"></i><i class="p9"></i><i class="n3"></i><i class="n1"></i><i class="n3"></i><i class="n3"></i><i class="p7"></i><i class="p4"></i><i class="n4"></i><i class="n2"></i><i class="p5"></i><i class="n4"></i><i class="n3"></i><i class="p1"></i><i class="p1"></i><i class="n3"></i><i class="n1"></i><i class="n1"></i><i class="p5"></i><i class="p4"></i><i class="p2"></i><i class="p0"></i><i class="p4"></i><i class="p4"></i><i class="p4"></i><i class="p6"></i><i class="p5"></i><i class="p5"></i><i class="n3"></i><i class="p9"></i><i class="p0"></i><i class="p1"></i><i class="p0"></i><i class="p1"></i><i class="n1"></i><i class="p4"></i><i class="p3"></i><i class="p1"></i><i class="p6"></i><i class="p6"></i><i class="p3"></i><i class="n7"></i><i class="p5"></i><i class="p6"></i><i class="p6"></i><i class="n2"></i><i class="p2"></i><i class="p2"></i><i class="p0"></i><i class="p4"></i><i class="p0"></i><i class="p1"></i><i class="p1"></i><i class="p1"></i><i class="n2"></i><i class="n1"></i><i class="p0"></i><i class="p9"></i><i class="n1"></i><i class="p4"></i><i class="n2"></i><i class="p5"></i><i class="p1"></i><i class="n5"></i><i class="p2"></i><i class="p3"></i><i class="p4"></i><i class="n3"></i><i class="n5"></i><i class="p3"></i><i class="p3"></i><i class="p2"></i><i class="p0"></i><i class="n1"></i><i class="n1"></i><i class="n2"></i><i class="p0"></i><i class="p0"></i><i class="n2"></i><i class="p6"></i><i class="p4"></i><i class="n1"></i><i class="n3"></i><i class="p1"></i><i class="n1"></i><i class="p9"></i><i class="n3"></i><i class="n1"></i><i class="n1"></i><i class="p3"></i><i class="p2"></i><i class="n5"></i><i class="p4"></i><i class="p5"></i><i class="p5"></i><i class="n2"></i><i class="p2"></i><i class="p2"></i><i class="p1"></i><i class="n5"></i><i class="p4"></i><i class="p5"></i><i class="p3"></i><i class="p1"></i><i class="p7"></i><i class="p5"></i><i class="p4"></i><i class="n1"></i><i class="n2"></i><i class="n3"></i><i class="p0"></i><i class="p4"></i><i class="n3"></i><i class="p9"></i><i class="n3"></i><i class="p1"></i><i class="p1"></i><i class="n1"></i><i class="n1"></i><i class="p0"></i><i class="p1"></i><i class="n3"></i><i class="p0"></i><i class="p1"></i><i class="p1"></i><i class="n1"></i><i class="n5"></i><i class="p1"></i><i class="p5"></i><i class="p7"></i><i class="p5"></i><i class="p3"></i><i class="p5"></i><i class="n1"></i><i class="p6"></i><i class="n1"></i><i class="p7"></i><i class="p1"></i><i class="n2"></i><i class="n1"></i><i class="n3"></i><i class="p9"></i><i class="p1"></i><i class="p2"></i><i class="n2"></i><i class="p1"></i><i class="p1"></i><i class="n1"></i><i class="p4"></i><i class="n3"></i><i class="p0"></i><i class="p3"></i><i class="p2"></i><i class="p0"></i><i class="p6"></i><i class="p3"></i><i class="p3"></i><i class="p0"></i><i class="p0"></i><i class="p0"></i><i class="n1"></i><i class="p3"></i><i class="n5"></i><i class="p4"></i><i class="n1"></i><i class="p5"></i><i class="n1"></i><i class="p1"></i><i class="p1"></i><i class="p9"></i><i class="n6"></i><i class="p2"></i><i class="p6"></i><i class="n3"></i><i class="n2"></i><i class="p3"></i><i class="n3"></i><i class="n4"></i><i class="n2"></i><i class="n4"></i><i class="p2"></i><i class="n3"></i><i class="p0"></i><i class="p0"></i><i class="p6"></i><i class="p3"></i><i class="p3"></i><i class="p4"></i><i class="p4"></i><i class="p6"></i><i class="n4"></i><i class="p4"></i><i class="p1"></i><i class="p3"></i><i class="p1"></i><i class="p2"></i><i class="n6"></i><i class="p9"></i><i class="n4"></i><i class="n9"></i><i class="p8"></i><i class="p6"></i><i class="p0"></i><i class="n6"></i><i class="p8"></i><i class="p8"></i><i class="p6"></i><i class="n6"></i><i class="p6"></i><i class="p0"></i><i class="p0"></i><i class="n6"></i><i class="p2"></i><i class="n1"></i><i class="p2"></i><i class="p1"></i><i class="p0"></i><i class="n2"></i><i class="p3"></i><i class="n5"></i><i class="p2"></i><i class="n1"></i><i class="n2"></i><i class="p2"></i><i class="n4"></i><i class="p9"></i><i class="p3"></i><i class="n3"></i><i class="n4"></i><i class="p6"></i><i class="p3"></i><i class="n6"></i><i class="n5"></i><i class="n5"></i><i class="n2"></i><i class="p6"></i><i class="p2"></i><i class="p2"></i><i class="n1"></i><i class="n1"></i><i class="p1"></i><i class="n2"></i><i class="p0"></i><i class="n4"></i><i class="p5"></i><i class="p1"></i><i class="p2"></i><i class="n5"></i><i class="n1"></i><i class="p1"></i><i class="p6"></i><i class="n9"></i><i class="p3"></i><i class="p9"></i><i class="n5"></i><i class="n2"></i><i class="p0"></i><i class="p0"></i><i class="n5"></i><i class="n3"></i><i class="n2"></i><i class="p7"></i><i class="n1"></i><i class="p0"></i><i class="n1"></i><i class="p7"></i><i class="p2"></i><i class="p3"></i><i class="p6"></i><i class="p5"></i><i class="p5"></i><i class="n4"></i><i class="p6"></i><i class="p3"></i><i class="p4"></i><i class="p0"></i><i class="p1"></i><i class="n3"></i><i class="p8"></i><i class="n3"></i><i class="n5"></i><i class="p9"></i><i class="p8"></i><i class="p1"></i><i class="n8"></i><i class="p8"></i><i class="p8"></i><i class="p8"></i><i class="n4"></i><i class="p0"></i><i class="p1"></i><i class="n2"></i><i class="p7"></i><i class="p1"></i><i class="p3"></i><i class="p7"></i><i class="p4"></i><i class="p2"></i><i class="n3"></i><i class="p6"></i><i class="p4"></i><i class="p5"></i><i class="p1"></i><i class="n1"></i><i class="n2"></i><i class="p6"></i><i class="n4"></i><i class="n2"></i><i class="p8"></i><i class="p9"></i><i class="n2"></i><i class="n6"></i><i class="p8"></i><i class="p8"></i><i class="p8"></i><i class="n2"></i><i class="p4"></i><i class="p2"></i><i class="p4"></i><i class="n1"></i><i class="p3"></i><i class="p1"></i><i class="p3"></i><i class="p7"></i><i class="p1"></i><i class="p1"></i><i class="p3"></i><i class="n3"></i><i class="p5"></i><i class="n3"></i><i class="p4"></i><i class="p3"></i><i class="p0"></i><i class="p6"></i><i class="p0"></i><i class="p1"></i><i class="n2"></i><i class="p9"></i><i class="n3"></i><i class="n3"></i><i class="n1"></i><i class="n3"></i><i class="n4"></i><i class="n4"></i><i class="n3"></i><i class="n2"></i><i class="n8"></i><i class="n3"></i><i class="n3"></i><i class="n4"></i><i class="n9"></i><i class="n4"></i><i class="p1"></i><i class="n7"></i><i class="n5"></i><i class="n2"></i><i class="p0"></i><i class="n3"></i><i class="n3"></i><i class="n6"></i><i class="p3"></i><i class="p0"></i><i class="n8"></i><i class="n6"></i><i class="n3"></i><i class="p9"></i><i class="n6"></i><i class="n9"></i><i class="n5"></i><i class="p2"></i><i class="n2"></i><i class="p0"></i><i class="n2"></i><i class="p8"></i><i class="p1"></i><i class="p3"></i><i class="p5"></i><i class="p3"></i><i class="p4"></i><i class="n3"></i><i class="p5"></i><i class="p3"></i><i class="p2"></i><i class="p1"></i><i class="p0"></i><i class="n4"></i><i class="p8"></i><i class="n6"></i><i class="n5"></i><i class="p8"></i><i class="p8"></i><i class="n3"></i><i class="n6"></i><i class="p9"></i><i class="p8"></i><i class="p8"></i><i class="n2"></i><i class="p1"></i><i class="p4"></i><i class="p2"></i><i class="p9"></i><i class="p4"></i><i class="p6"></i><i class="p5"></i><i class="p6"></i><i class="p3"></i><i class="n1"></i><i class="p6"></i><i class="p3"></i><i class="p2"></i><i class="p1"></i><i class="p3"></i><i class="n2"></i><i class="p8"></i><i class="n5"></i><i class="n3"></i><i class="p8"></i><i class="p8"></i><i class="n1"></i><i class="n9"></i><i class="p8"></i><i class="p9"></i><i class="p8"></i><i class="n2"></i><i class="n2"></i><i class="p1"></i><i class="n1"></i><i class="p8"></i><i class="p0"></i><i class="p4"></i><i class="p4"></i><i class="p3"></i><i class="p2"></i><i class="n1"></i><i class="p6"></i><i class="p2"></i><i class="p1"></i><i class="n1"></i><i class="p2"></i><i class="n4"></i><i class="p6"></i><i class="n5"></i><i class="n2"></i><i class="p8"></i><i class="p8"></i><i class="n3"></i><i class="n5"></i><i class="p8"></i><i class="p8"></i><i class="p9"></i><i class="p1"></i><i class="n2"></i><i class="n2"></i><i class="n2"></i><i class="n1"></i><i class="n6"></i><i class="n3"></i><i class="n6"></i><i class="n4"></i><i class="n2"></i><i class="p5"></i><i class="n2"></i><i class="p0"></i><i class="n5"></i><i class="n5"></i><i class="p0"></i><i class="p2"></i><i class="n6"></i><i class="n2"></i><i class="p7"></i><i class="n4"></i><i class="n2"></i><i class="n4"></i><i class="p2"></i><i class="n2"></i><i class="n2"></i><i class="p1"></i><i class="p9"></i></div>
<div class="hm" style="left:993.6px;top:1011.5px;width:715.100px;grid-template-columns:repeat(27,26.4852px);grid-auto-rows:26.4537px"><i class="p9"></i><i class="p8"></i><i class="p5"></i><i class="p4"></i><i class="p2"></i><i class="p2"></i><i class="p0"></i><i class="p1"></i><i class="p2"></i><i class="p3"></i><i class="p2"></i><i class="p4"></i><i class="p3"></i><i class="p1"></i><i class="p3"></i><i class="p5"></i><i class="p4"></i><i class="p4"></i><i class="p2"></i><i class="p2"></i><i class="p5"></i><i class="p7"></i><i class="p1"></i><i class="p3"></i><i class="p3"></i><i class="p2"></i><i class="p4"></i><i class="p8"></i><i class="p9"></i><i class="p6"></i><i class="p1"></i><i class="p3"></i><i class="p5"></i><i class="n1"></i><i class="p1"></i><i class="p3"></i><i class="p4"></i><i class="p5"></i><i class="p6"></i><i class="p3"></i><i class="p0"></i><i class="p4"></i><i class="p6"></i><i class="p5"></i><i class="p6"></i><i class="p5"></i><i class="p1"></i><i class="p5"></i><i class="p8"></i><i class="p5"></i><i class="p6"></i><i class="p6"></i><i class="p6"></i><i class="p6"></i><i class="p5"></i><i class="p6"></i><i class="p9"></i><i class="n3"></i><i class="p7"></i><i class="p6"></i><i class="n3"></i><i class="n4"></i><i class="p4"></i><i class="p6"></i><i class="p7"></i><i class="p8"></i><i class="p6"></i><i class="n5"></i><i class="p5"></i><i class="p8"></i><i class="p8"></i><i class="p7"></i><i class="p8"></i><i class="p4"></i><i class="p7"></i><i class="p7"></i><i class="p5"></i><i class="p7"></i><i class="p6"></i><i class="p8"></i><i class="p7"></i><i class="p4"></i><i class="p1"></i><i class="n3"></i><i class="p9"></i><i class="n7"></i><i class="n5"></i><i class="p5"></i><i class="p1"></i><i class="n2"></i><i class="n3"></i><i class="n4"></i><i class="n3"></i><i class="p0"></i><i class="p7"></i><i class="p1"></i><i class="n2"></i><i class="n6"></i><i class="n2"></i><i class="n3"></i><i class="p0"></i><i class="p0"></i><i class="n2"></i><i class="n3"></i><i class="n4"></i><i class="n4"></i><i class="n6"></i><i class="n1"></i><i class="p2"></i><i class="p3"></i><i class="p7"></i><i class="n7"></i><i class="p9"></i><i class="p6"></i><i class="n5"></i><i class="n2"></i><i class="p2"></i><i class="p7"></i><i class="p5"></i><i class="p5"></i><i class="p3"></i><i class="n7"></i><i class="p1"></i><i class="p6"></i><i class="p8"></i><i class="p5"></i><i class="p5"></i><i class="p4"></i><i class="p4"></i><i class="p6"></i><i class="p2"></i><i class="p5"></i><i class="p3"></i><i class="p7"></i><i class="p4"></i><i class="p2"></i><i class="p5"></i><i class="p6"></i><i class="n5"></i><i class="p6"></i><i class="p9"></i><i class="p1"></i><i class="n3"></i><i class="p3"></i><i class="p7"></i><i class="p7"></i><i class="p7"></i><i class="p6"></i><i class="n2"></i><i class="p4"></i><i class="p5"></i><i class="p6"></i><i class="p8"></i><i class="p8"></i><i class="p1"></i><i class="p3"></i><i class="p6"></i><i class="p6"></i><i class="p6"></i><i class="p7"></i><i class="p8"></i><i class="p6"></i><i class="p0"></i><i class="n1"></i><i class="n3"></i><i class="p5"></i><i class="n5"></i><i class="p1"></i><i class="p9"></i><i class="n4"></i><i class="p1"></i><i class="p1"></i><i class="n1"></i><i class="p1"></i><i class="p4"></i><i class="p7"></i><i class="p4"></i><i class="n2"></i><i class="n5"></i><i class="p2"></i><i class="p2"></i><i class="p1"></i><i class="p1"></i><i class="n4"></i><i class="n2"></i><i class="n3"></i><i class="p2"></i><i class="n2"></i><i class="p1"></i><i class="p1"></i><i class="p1"></i><i class="n4"></i><i class="p1"></i><i class="n2"></i><i class="n3"></i><i class="n4"></i><i class="p9"></i><i class="n5"></i><i class="n3"></i><i class="n5"></i><i class="n6"></i><i class="n7"></i><i class="p0"></i><i class="n8"></i><i class="n6"></i><i class="n4"></i><i class="n6"></i><i class="n8"></i><i class="n6"></i><i class="n7"></i><i class="p1"></i><i class="n3"></i><i class="n3"></i><i class="n5"></i><i class="n4"></i><i class="n6"></i><i class="p2"></i><i class="p3"></i><i class="p4"></i><i class="n2"></i><i class="p2"></i><i class="p3"></i><i class="p1"></i><i class="n5"></i><i class="p9"></i><i class="p0"></i><i class="p5"></i><i class="p6"></i><i class="p2"></i><i class="n4"></i><i class="p7"></i><i class="p7"></i><i class="p6"></i><i class="p3"></i><i class="p6"></i><i class="p5"></i><i class="p7"></i><i class="p4"></i><i class="p5"></i><i class="p5"></i><i class="p5"></i><i class="p2"></i><i class="p6"></i><i class="p3"></i><i class="p4"></i><i class="p6"></i><i class="n3"></i><i class="p7"></i><i class="p7"></i><i class="p1"></i><i class="n3"></i><i class="p0"></i><i class="p9"></i><i class="p6"></i><i class="p7"></i><i class="p7"></i><i class="n2"></i><i class="p3"></i><i class="p5"></i><i class="p5"></i><i class="p7"></i><i class="p7"></i><i class="p1"></i><i class="p4"></i><i class="p4"></i><i class="p5"></i><i class="p6"></i><i class="p6"></i><i class="p7"></i><i class="p3"></i><i class="p2"></i><i class="p5"></i><i class="p7"></i><i class="n4"></i><i class="p5"></i><i class="p7"></i><i class="n1"></i><i class="n5"></i><i class="p5"></i><i class="p6"></i><i class="p9"></i><i class="p8"></i><i class="p6"></i><i class="n4"></i><i class="p7"></i><i class="p8"></i><i class="p7"></i><i class="p6"></i><i class="p8"></i><i class="p1"></i><i class="p6"></i><i class="p6"></i><i class="p8"></i><i class="p8"></i><i class="p8"></i><i class="p8"></i><i class="p6"></i><i class="p4"></i><i class="p6"></i><i class="p8"></i><i class="n3"></i><i class="p5"></i><i class="p7"></i><i class="p1"></i><i class="n6"></i><i class="p6"></i><i class="p7"></i><i class="p8"></i><i class="p9"></i><i class="p7"></i><i class="n3"></i><i class="p7"></i><i class="p8"></i><i class="p7"></i><i class="p8"></i><i class="p8"></i><i class="p4"></i><i class="p7"></i><i class="p6"></i><i class="p7"></i><i class="p7"></i><i class="p8"></i><i class="p8"></i><i class="p8"></i><i class="p3"></i><i class="p3"></i><i class="p6"></i><i class="p0"></i><i class="p3"></i><i class="p6"></i><i class="p4"></i><i class="n7"></i><i class="p2"></i><i class="p7"></i><i class="p6"></i><i class="p7"></i><i class="p9"></i><i class="p0"></i><i class="p6"></i><i class="p6"></i><i class="p3"></i><i class="p7"></i><i class="p8"></i><i class="p4"></i><i class="p6"></i><i class="p2"></i><i class="p3"></i><i class="p5"></i><i class="p6"></i><i class="p6"></i><i class="p5"></i><i class="p1"></i><i class="p0"></i><i class="n5"></i><i class="p7"></i><i class="n7"></i><i class="n2"></i><i class="p7"></i><i class="p0"></i><i class="n4"></i><i class="n2"></i><i class="n4"></i><i class="n3"></i><i class="p0"></i><i class="p9"></i><i class="n1"></i><i class="n5"></i><i class="n7"></i><i class="p1"></i><i class="n2"></i><i class="n1"></i><i class="n2"></i><i class="n4"></i><i class="n4"></i><i class="n5"></i><i class="n2"></i><i class="n4"></i><i class="n1"></i><i class="p3"></i><i class="p4"></i><i class="p5"></i><i class="p1"></i><i class="p1"></i><i class="p4"></i><i class="p4"></i><i class="n8"></i><i class="p7"></i><i class="p3"></i><i class="p7"></i><i class="p7"></i><i class="p6"></i><i class="n1"></i><i class="p9"></i><i class="p8"></i><i class="p5"></i><i class="p6"></i><i class="p7"></i><i class="p5"></i><i class="p8"></i><i class="p4"></i><i class="p6"></i><i class="p6"></i><i class="p7"></i><i class="p4"></i><i class="p8"></i><i class="p5"></i><i class="p6"></i><i class="p8"></i><i class="n2"></i><i class="p6"></i><i class="p5"></i><i class="n2"></i><i class="n6"></i><i class="p7"></i><i class="p5"></i><i class="p8"></i><i class="p8"></i><i class="p6"></i><i class="n5"></i><i class="p8"></i><i class="p9"></i><i class="p8"></i><i class="p7"></i><i class="p8"></i><i class="p5"></i><i class="p7"></i><i class="p7"></i><i class="p7"></i><i class="p8"></i><i class="p7"></i><i class="p8"></i><i class="p8"></i><i class="p4"></i><i class="p5"></i><i class="p8"></i><i class="n6"></i><i class="p8"></i><i class="p6"></i><i class="n5"></i><i class="n4"></i><i class="p6"></i><i class="p5"></i><i class="p7"></i><i class="p7"></i><i class="p3"></i><i class="n7"></i><i class="p5"></i><i class="p8"></i><i class="p9"></i><i class="p6"></i><i class="p7"></i><i class="p5"></i><i class="p6"></i><i class="p7"></i><i class="p6"></i><i class="p7"></i><i class="p8"></i><i class="p8"></i><i class="p7"></i><i class="p4"></i><i class="p6"></i><i class="p7"></i><i class="n2"></i><i class="p5"></i><i class="p8"></i><i class="p2"></i><i class="n6"></i><i class="p3"></i><i class="p7"></i><i class="p6"></i><i class="p8"></i><i class="p7"></i><i class="p1"></i><i class="p6"></i><i class="p7"></i><i class="p6"></i><i class="p9"></i><i class="p8"></i><i class="p5"></i><i class="p6"></i><i class="p4"></i><i class="p4"></i><i class="p6"></i><i class="p6"></i><i class="p7"></i><i class="p7"></i><i class="p2"></i><i class="p5"></i><i class="p8"></i><i class="n3"></i><i class="p5"></i><i class="p8"></i><i class="p2"></i><i class="n8"></i><i class="p6"></i><i class="p7"></i><i class="p8"></i><i class="p8"></i><i class="p8"></i><i class="n2"></i><i class="p7"></i><i class="p8"></i><i class="p7"></i><i class="p8"></i><i class="p9"></i><i class="p4"></i><i class="p7"></i><i class="p4"></i><i class="p7"></i><i class="p7"></i><i class="p8"></i><i class="p8"></i><i class="p7"></i><i class="p2"></i><i class="p1"></i><i class="p4"></i><i class="p0"></i><i class="p4"></i><i class="p1"></i><i class="p1"></i><i class="n6"></i><i class="p5"></i><i class="p1"></i><i class="p1"></i><i class="p4"></i><i class="p4"></i><i class="n1"></i><i class="p5"></i><i class="p5"></i><i class="p5"></i><i class="p5"></i><i class="p4"></i><i class="p9"></i><i class="p8"></i><i class="p2"></i><i class="n2"></i><i class="p0"></i><i class="p1"></i><i class="p1"></i><i class="p7"></i><i class="p5"></i><i class="p5"></i><i class="p7"></i><i class="p0"></i><i class="p4"></i><i class="p3"></i><i class="p1"></i><i class="n7"></i><i class="p7"></i><i class="p4"></i><i class="p6"></i><i class="p7"></i><i class="p6"></i><i class="n2"></i><i class="p8"></i><i class="p7"></i><i class="p6"></i><i class="p6"></i><i class="p7"></i><i class="p8"></i><i class="p9"></i><i class="p5"></i><i class="p3"></i><i class="p4"></i><i class="p5"></i><i class="p4"></i><i class="p8"></i><i class="p7"></i><i class="p8"></i><i class="p7"></i><i class="n2"></i><i class="p6"></i><i class="p6"></i><i class="n4"></i><i class="p1"></i><i class="p4"></i><i class="p4"></i><i class="p6"></i><i class="p6"></i><i class="p2"></i><i class="n4"></i><i class="p4"></i><i class="p7"></i><i class="p7"></i><i class="p4"></i><i class="p4"></i><i class="p2"></i><i class="p5"></i><i class="p9"></i><i class="p5"></i><i class="p6"></i><i class="p4"></i><i class="p6"></i><i class="p5"></i><i class="p1"></i><i class="p5"></i><i class="p5"></i><i class="n3"></i><i class="p2"></i><i class="p6"></i><i class="n2"></i><i class="n3"></i><i class="p5"></i><i class="p5"></i><i class="p8"></i><i class="p7"></i><i class="p3"></i><i class="n4"></i><i class="p6"></i><i class="p7"></i><i class="p6"></i><i class="p4"></i><i class="p7"></i><i class="n2"></i><i class="p3"></i><i class="p5"></i><i class="p9"></i><i class="p8"></i><i class="p7"></i><i class="p6"></i><i class="p3"></i><i class="p3"></i><i class="p6"></i><i class="p7"></i><i class="n4"></i><i class="p5"></i><i class="p6"></i><i class="n3"></i><i class="n3"></i><i class="p5"></i><i class="p6"></i><i class="p8"></i><i class="p7"></i><i class="p5"></i><i class="n5"></i><i class="p6"></i><i class="p8"></i><i class="p7"></i><i class="p6"></i><i class="p7"></i><i class="p0"></i><i class="p4"></i><i class="p6"></i><i class="p8"></i><i class="p9"></i><i class="p8"></i><i class="p7"></i><i class="p5"></i><i class="p3"></i><i class="p6"></i><i class="p6"></i><i class="n4"></i><i class="p3"></i><i class="p7"></i><i class="p2"></i><i class="n5"></i><i class="p5"></i><i class="p6"></i><i class="p8"></i><i class="p8"></i><i class="p6"></i><i class="n2"></i><i class="p7"></i><i class="p7"></i><i class="p8"></i><i class="p6"></i><i class="p8"></i><i class="p1"></i><i class="p5"></i><i class="p4"></i><i class="p7"></i><i class="p8"></i><i class="p9"></i><i class="p8"></i><i class="p6"></i><i class="p2"></i><i class="p6"></i><i class="p8"></i><i class="n6"></i><i class="p7"></i><i class="p8"></i><i class="n2"></i><i class="n4"></i><i class="p2"></i><i class="p7"></i><i class="p8"></i><i class="p8"></i><i class="p6"></i><i class="n4"></i><i class="p4"></i><i class="p8"></i><i class="p8"></i><i class="p7"></i><i class="p8"></i><i class="p1"></i><i class="p4"></i><i class="p6"></i><i class="p6"></i><i class="p7"></i><i class="p8"></i><i class="p9"></i><i class="p6"></i><i class="p4"></i><i class="p6"></i><i class="p7"></i><i class="n1"></i><i class="p4"></i><i class="p6"></i><i class="p1"></i><i class="n6"></i><i class="p6"></i><i class="p3"></i><i class="p6"></i><i class="p8"></i><i class="p5"></i><i class="n1"></i><i class="p8"></i><i class="p8"></i><i class="p7"></i><i class="p7"></i><i class="p7"></i><i class="p7"></i><i class="p8"></i><i class="p5"></i><i class="p3"></i><i class="p5"></i><i class="p6"></i><i class="p6"></i><i class="p9"></i></div>
<svg width="1749" height="2499" viewBox="0 0 1749 2499">
<text class="b" x="3.3" y="32.7" font-size="40.6">A</text>
<text class="b" x="2.4" y="1868.5" font-size="40.6">B</text>
<text class="b" x="922" y="1868.5" font-size="40.6">C</text>
<text class="b" x="443.1" y="72.0" font-size="39.4" text-anchor="middle">D1-NT</text>
<text class="b" x="77.7" y="134.3" font-size="23.5" text-anchor="end">PrL</text>
<text class="b" x="77.7" y="160.8" font-size="23.5" text-anchor="end">IL</text>
<text class="b" x="77.7" y="187.2" font-size="23.5" text-anchor="end">OFC</text>
<text class="b" x="77.7" y="213.7" font-size="23.5" text-anchor="end">AIC</text>
<text class="b" x="77.7" y="240.1" font-size="23.5" text-anchor="end">ACC</text>
<text class="b" x="77.7" y="266.6" font-size="23.5" text-anchor="end">NAcc</text>
<text class="b" x="77.7" y="293.1" font-size="23.5" text-anchor="end">NAcSh</text>
<text class="b" x="77.7" y="319.5" font-size="23.5" text-anchor="end">VP</text>
<text class="b" x="77.7" y="346.0" font-size="23.5" text-anchor="end">LS</text>
<text class="b" x="77.7" y="372.4" font-size="23.5" text-anchor="end">LHb</text>
<text class="b" x="77.7" y="398.9" font-size="23.5" text-anchor="end">dCA1</text>
<text class="b" x="77.7" y="425.3" font-size="23.5" text-anchor="end">dCA3</text>
<text class="b" x="77.7" y="451.8" font-size="23.5" text-anchor="end">DMD</text>
<text class="b" x="77.7" y="478.2" font-size="23.5" text-anchor="end">CeA</text>
<text class="b" x="77.7" y="504.7" font-size="23.5" text-anchor="end">BLA</text>
<text class="b" x="77.7" y="531.2" font-size="23.5" text-anchor="end">dSub</text>
<text class="b" x="77.7" y="557.6" font-size="23.5" text-anchor="end">DG</text>
<text class="b" x="77.7" y="584.1" font-size="23.5" text-anchor="end">PVT</text>
<text class="b" x="77.7" y="610.5" font-size="23.5" text-anchor="end">RSC</text>
<text class="b" x="77.7" y="637.0" font-size="23.5" text-anchor="end">vCA1</text>
<text class="b" x="77.7" y="663.4" font-size="23.5" text-anchor="end">vCA3</text>
<text class="b" x="77.7" y="689.9" font-size="23.5" text-anchor="end">VTA</text>
<text class="b" x="77.7" y="716.3" font-size="23.5" text-anchor="end">SNr</text>
<text class="b" x="77.7" y="742.8" font-size="23.5" text-anchor="end">vSub</text>
<text class="b" x="77.7" y="769.3" font-size="23.5" text-anchor="end">LEC</text>
<text class="b" x="77.7" y="795.7" font-size="23.5" text-anchor="end">MEC</text>
<text class="b" x="77.7" y="822.2" font-size="23.5" text-anchor="end">vPAG</text>
<text class="b" transform="translate(106.1,852.6) rotate(-45)" font-size="23.5" text-anchor="end">PrL</text>
<text class="b" transform="translate(132.6,852.6) rotate(-45)" font-size="23.5" text-anchor="end">IL</text>
<text class="b" transform="translate(159.1,852.6) rotate(-45)" font-size="23.5" text-anchor="end">OFC</text>
<text class="b" transform="translate(185.6,852.6) rotate(-45)" font-size="23.5" text-anchor="end">AIC</text>
<text class="b" transform="translate(212.0,852.6) rotate(-45)" font-size="23.5" text-anchor="end">ACC</text>
<text class="b" transform="translate(238.5,852.6) rotate(-45)" font-size="23.5" text-anchor="end">NAcc</text>
<text class="b" transform="translate(265.0,852.6) rotate(-45)" font-size="23.5" text-anchor="end">NAcSh</text>
<text class="b" transform="translate(291.5,852.6) rotate(-45)" font-size="23.5" text-anchor="end">VP</text>
<text class="b" transform="translate(317.9,852.6) rotate(-45)" font-size="23.5" text-anchor="end">LS</text>
<text class="b" transform="translate(344.4,852.6) rotate(-45)" font-size="23.5" text-anchor="end">LHb</text>
<text class="b" transform="translate(370.9,852.6) rotate(-45)" font-size="23.5" text-anchor="end">dCA1</text>
<text class="b" transform="translate(397.4,852.6) rotate(-45)" font-size="23.5" text-anchor="end">dCA3</text>
<text class="b" transform="translate(423.8,852.6) rotate(-45)" font-size="23.5" text-anchor="end">DMD</text>
<text class="b" transform="translate(450.3,852.6) rotate(-45)" font-size="23.5" text-anchor="end">CeA</text>
<text class="b" transform="translate(476.8,852.6) rotate(-45)" font-size="23.5" text-anchor="end">BLA</text>
<text class="b" transform="translate(503.2,852.6) rotate(-45)" font-size="23.5" text-anchor="end">dSub</text>
<text class="b" transform="translate(529.7,852.6) rotate(-45)" font-size="23.5" text-anchor="end">DG</text>
<text class="b" transform="translate(556.2,852.6) rotate(-45)" font-size="23.5" text-anchor="end">PVT</text>
<text class="b" transform="translate(582.7,852.6) rotate(-45)" font-size="23.5" text-anchor="end">RSC</text>
<text class="b" transform="translate(609.1,852.6) rotate(-45)" font-size="23.5" text-anchor="end">vCA1</text>
<text class="b" transform="translate(635.6,852.6) rotate(-45)" font-size="23.5" text-anchor="end">vCA3</text>
<text class="b" transform="translate(662.1,852.6) rotate(-45)" font-size="23.5" text-anchor="end">VTA</text>
<text class="b" transform="translate(688.6,852.6) rotate(-45)" font-size="23.5" text-anchor="end">SNr</text>
<text class="b" transform="translate(715.0,852.6) rotate(-45)" font-size="23.5" text-anchor="end">vSub</text>
<text class="b" transform="translate(741.5,852.6) rotate(-45)" font-size="23.5" text-anchor="end">LEC</text>
<text class="b" transform="translate(768.0,852.6) rotate(-45)" font-size="23.5" text-anchor="end">MEC</text>
<text class="b" transform="translate(794.5,852.6) rotate(-45)" font-size="23.5" text-anchor="end">vPAG</text>
<text class="b" x="1352.1" y="72.0" font-size="39.4" text-anchor="middle">D1-T</text>
<text class="b" x="985.8" y="134.3" font-size="23.5" text-anchor="end">PrL</text>
<text class="b" x="985.8" y="160.8" font-size="23.5" text-anchor="end">IL</text>
<text class="b" x="985.8" y="187.3" font-size="23.5" text-anchor="end">OFC</text>
<text class="b" x="985.8" y="213.7" font-size="23.5" text-anchor="end">AIC</text>
<text class="b" x="985.8" y="240.2" font-size="23.5" text-anchor="end">ACC</text>
<text class="b" x="985.8" y="266.6" font-size="23.5" text-anchor="end">NAcc</text>
<text class="b" x="985.8" y="293.1" font-size="23.5" text-anchor="end">NAcSh</text>
<text class="b" x="985.8" y="319.6" font-size="23.5" text-anchor="end">VP</text>
<text class="b" x="985.8" y="346.0" font-size="23.5" text-anchor="end">LS</text>
<text class="b" x="985.8" y="372.5" font-size="23.5" text-anchor="end">LHb</text>
<text class="b" x="985.8" y="399.0" font-size="23.5" text-anchor="end">dCA1</text>
<text class="b" x="985.8" y="425.4" font-size="23.5" text-anchor="end">dCA3</text>
<text class="b" x="985.8" y="451.9" font-size="23.5" text-anchor="end">DMD</text>
<text class="b" x="985.8" y="478.4" font-size="23.5" text-anchor="end">CeA</text>
<text class="b" x="985.8" y="504.8" font-size="23.5" text-anchor="end">BLA</text>
<text class="b" x="985.8" y="531.3" font-size="23.5" text-anchor="end">dSub</text>
<text class="b" x="985.8" y="557.7" font-size="23.5" text-anchor="end">DG</text>
<text class="b" x="985.8" y="584.2" font-size="23.5" text-anchor="end">PVT</text>
<text class="b" x="985.8" y="610.7" font-size="23.5" text-anchor="end">RSC</text>
<text class="b" x="985.8" y="637.1" font-size="23.5" text-anchor="end">vCA1</text>
<text class="b" x="985.8" y="663.6" font-size="23.5" text-anchor="end">vCA3</text>
<text class="b" x="985.8" y="690.1" font-size="23.5" text-anchor="end">VTA</text>
<text class="b" x="985.8" y="716.5" font-size="23.5" text-anchor="end">SNr</text>
<text class="b" x="985.8" y="743.0" font-size="23.5" text-anchor="end">vSub</text>
<text class="b" x="985.8" y="769.4" font-size="23.5" text-anchor="end">LEC</text>
<text class="b" x="985.8" y="795.9" font-size="23.5" text-anchor="end">MEC</text>
<text class="b" x="985.8" y="822.4" font-size="23.5" text-anchor="end">vPAG</text>
<text class="b" transform="translate(1014.2,852.8) rotate(-45)" font-size="23.5" text-anchor="end">PrL</text>
<text class="b" transform="translate(1040.7,852.8) rotate(-45)" font-size="23.5" text-anchor="end">IL</text>
<text class="b" transform="translate(1067.2,852.8) rotate(-45)" font-size="23.5" text-anchor="end">OFC</text>
<text class="b" transform="translate(1093.7,852.8) rotate(-45)" font-size="23.5" text-anchor="end">AIC</text>
<text class="b" transform="translate(1120.2,852.8) rotate(-45)" font-size="23.5" text-anchor="end">ACC</text>
<text class="b" transform="translate(1146.7,852.8) rotate(-45)" font-size="23.5" text-anchor="end">NAcc</text>
<text class="b" transform="translate(1173.2,852.8) rotate(-45)" font-size="23.5" text-anchor="end">NAcSh</text>
<text class="b" transform="translate(1199.6,852.8) rotate(-45)" font-size="23.5" text-anchor="end">VP</text>
<text class="b" transform="translate(1226.1,852.8) rotate(-45)" font-size="23.5" text-anchor="end">LS</text>
<text class="b" transform="translate(1252.6,852.8) rotate(-45)" font-size="23.5" text-anchor="end">LHb</text>
<text class="b" transform="translate(1279.1,852.8) rotate(-45)" font-size="23.5" text-anchor="end">dCA1</text>
<text class="b" transform="translate(1305.6,852.8) rotate(-45)" font-size="23.5" text-anchor="end">dCA3</text>
<text class="b" transform="translate(1332.1,852.8) rotate(-45)" font-size="23.5" text-anchor="end">DMD</text>
<text class="b" transform="translate(1358.6,852.8) rotate(-45)" font-size="23.5" text-anchor="end">CeA</text>
<text class="b" transform="translate(1385.0,852.8) rotate(-45)" font-size="23.5" text-anchor="end">BLA</text>
<text class="b" transform="translate(1411.5,852.8) rotate(-45)" font-size="23.5" text-anchor="end">dSub</text>
<text class="b" transform="translate(1438.0,852.8) rotate(-45)" font-size="23.5" text-anchor="end">DG</text>
<text class="b" transform="translate(1464.5,852.8) rotate(-45)" font-size="23.5" text-anchor="end">PVT</text>
<text class="b" transform="translate(1491.0,852.8) rotate(-45)" font-size="23.5" text-anchor="end">RSC</text>
<text class="b" transform="translate(1517.5,852.8) rotate(-45)" font-size="23.5" text-anchor="end">vCA1</text>
<text class="b" transform="translate(1543.9,852.8) rotate(-45)" font-size="23.5" text-anchor="end">vCA3</text>
<text class="b" transform="translate(1570.4,852.8) rotate(-45)" font-size="23.5" text-anchor="end">VTA</text>
<text class="b" transform="translate(1596.9,852.8) rotate(-45)" font-size="23.5" text-anchor="end">SNr</text>
<text class="b" transform="translate(1623.4,852.8) rotate(-45)" font-size="23.5" text-anchor="end">vSub</text>
<text class="b" transform="translate(1649.9,852.8) rotate(-45)" font-size="23.5" text-anchor="end">LEC</text>
<text class="b" transform="translate(1676.4,852.8) rotate(-45)" font-size="23.5" text-anchor="end">MEC</text>
<text class="b" transform="translate(1702.9,852.8) rotate(-45)" font-size="23.5" text-anchor="end">vPAG</text>
<text class="b" x="445.6" y="971.3" font-size="40.4" text-anchor="middle">D14-NT</text>
<text class="b" x="77.7" y="1034.8" font-size="23.5" text-anchor="end">PrL</text>
<text class="b" x="77.7" y="1061.2" font-size="23.5" text-anchor="end">IL</text>
<text class="b" x="77.7" y="1087.7" font-size="23.5" text-anchor="end">OFC</text>
<text class="b" x="77.7" y="1114.1" font-size="23.5" text-anchor="end">AIC</text>
<text class="b" x="77.7" y="1140.5" font-size="23.5" text-anchor="end">ACC</text>
<text class="b" x="77.7" y="1167.0" font-size="23.5" text-anchor="end">NAcc</text>
<text class="b" x="77.7" y="1193.4" font-size="23.5" text-anchor="end">NAcSh</text>
<text class="b" x="77.7" y="1219.8" font-size="23.5" text-anchor="end">VP</text>
<text class="b" x="77.7" y="1246.3" font-size="23.5" text-anchor="end">LS</text>
<text class="b" x="77.7" y="1272.7" font-size="23.5" text-anchor="end">LHb</text>
<text class="b" x="77.7" y="1299.1" font-size="23.5" text-anchor="end">dCA1</text>
<text class="b" x="77.7" y="1325.5" font-size="23.5" text-anchor="end">dCA3</text>
<text class="b" x="77.7" y="1352.0" font-size="23.5" text-anchor="end">DMD</text>
<text class="b" x="77.7" y="1378.4" font-size="23.5" text-anchor="end">CeA</text>
<text class="b" x="77.7" y="1404.8" font-size="23.5" text-anchor="end">BLA</text>
<text class="b" x="77.7" y="1431.3" font-size="23.5" text-anchor="end">dSub</text>
<text class="b" x="77.7" y="1457.7" font-size="23.5" text-anchor="end">DG</text>
<text class="b" x="77.7" y="1484.1" font-size="23.5" text-anchor="end">PVT</text>
<text class="b" x="77.7" y="1510.5" font-size="23.5" text-anchor="end">RSC</text>
<text class="b" x="77.7" y="1537.0" font-size="23.5" text-anchor="end">vCA1</text>
<text class="b" x="77.7" y="1563.4" font-size="23.5" text-anchor="end">vCA3</text>
<text class="b" x="77.7" y="1589.8" font-size="23.5" text-anchor="end">VTA</text>
<text class="b" x="77.7" y="1616.3" font-size="23.5" text-anchor="end">SNr</text>
<text class="b" x="77.7" y="1642.7" font-size="23.5" text-anchor="end">vSub</text>
<text class="b" x="77.7" y="1669.1" font-size="23.5" text-anchor="end">LEC</text>
<text class="b" x="77.7" y="1695.6" font-size="23.5" text-anchor="end">MEC</text>
<text class="b" x="77.7" y="1722.0" font-size="23.5" text-anchor="end">vPAG</text>
<text class="b" transform="translate(106.1,1752.4) rotate(-45)" font-size="23.5" text-anchor="end">PrL</text>
<text class="b" transform="translate(132.6,1752.4) rotate(-45)" font-size="23.5" text-anchor="end">IL</text>
<text class="b" transform="translate(159.1,1752.4) rotate(-45)" font-size="23.5" text-anchor="end">OFC</text>
<text class="b" transform="translate(185.5,1752.4) rotate(-45)" font-size="23.5" text-anchor="end">AIC</text>
<text class="b" transform="translate(212.0,1752.4) rotate(-45)" font-size="23.5" text-anchor="end">ACC</text>
<text class="b" transform="translate(238.5,1752.4) rotate(-45)" font-size="23.5" text-anchor="end">NAcc</text>
<text class="b" transform="translate(264.9,1752.4) rotate(-45)" font-size="23.5" text-anchor="end">NAcSh</text>
<text class="b" transform="translate(291.4,1752.4) rotate(-45)" font-size="23.5" text-anchor="end">VP</text>
<text class="b" transform="translate(317.9,1752.4) rotate(-45)" font-size="23.5" text-anchor="end">LS</text>
<text class="b" transform="translate(344.3,1752.4) rotate(-45)" font-size="23.5" text-anchor="end">LHb</text>
<text class="b" transform="translate(370.8,1752.4) rotate(-45)" font-size="23.5" text-anchor="end">dCA1</text>
<text class="b" transform="translate(397.3,1752.4) rotate(-45)" font-size="23.5" text-anchor="end">dCA3</text>
<text class="b" transform="translate(423.7,1752.4) rotate(-45)" font-size="23.5" text-anchor="end">DMD</text>
<text class="b" transform="translate(450.2,1752.4) rotate(-45)" font-size="23.5" text-anchor="end">CeA</text>
<text class="b" transform="translate(476.7,1752.4) rotate(-45)" font-size="23.5" text-anchor="end">BLA</text>
<text class="b" transform="translate(503.1,1752.4) rotate(-45)" font-size="23.5" text-anchor="end">dSub</text>
<text class="b" transform="translate(529.6,1752.4) rotate(-45)" font-size="23.5" text-anchor="end">DG</text>
<text class="b" transform="translate(556.1,1752.4) rotate(-45)" font-size="23.5" text-anchor="end">PVT</text>
<text class="b" transform="translate(582.5,1752.4) rotate(-45)" font-size="23.5" text-anchor="end">RSC</text>
<text class="b" transform="translate(609.0,1752.4) rotate(-45)" font-size="23.5" text-anchor="end">vCA1</text>
<text class="b" transform="translate(635.5,1752.4) rotate(-45)" font-size="23.5" text-anchor="end">vCA3</text>
<text class="b" transform="translate(661.9,1752.4) rotate(-45)" font-size="23.5" text-anchor="end">VTA</text>
<text class="b" transform="translate(688.4,1752.4) rotate(-45)" font-size="23.5" text-anchor="end">SNr</text>
<text class="b" transform="translate(714.9,1752.4) rotate(-45)" font-size="23.5" text-anchor="end">vSub</text>
<text class="b" transform="translate(741.3,1752.4) rotate(-45)" font-size="23.5" text-anchor="end">LEC</text>
<text class="b" transform="translate(767.8,1752.4) rotate(-45)" font-size="23.5" text-anchor="end">MEC</text>
<text class="b" transform="translate(794.3,1752.4) rotate(-45)" font-size="23.5" text-anchor="end">vPAG</text>
<text class="b" x="1353.3" y="971.3" font-size="40.4" text-anchor="middle">D14-T</text>
<text class="b" x="985.8" y="1033.3" font-size="23.5" text-anchor="end">PrL</text>
<text class="b" x="985.8" y="1059.8" font-size="23.5" text-anchor="end">IL</text>
<text class="b" x="985.8" y="1086.2" font-size="23.5" text-anchor="end">OFC</text>
<text class="b" x="985.8" y="1112.7" font-size="23.5" text-anchor="end">AIC</text>
<text class="b" x="985.8" y="1139.1" font-size="23.5" text-anchor="end">ACC</text>
<text class="b" x="985.8" y="1165.6" font-size="23.5" text-anchor="end">NAcc</text>
<text class="b" x="985.8" y="1192.0" font-size="23.5" text-anchor="end">NAcSh</text>
<text class="b" x="985.8" y="1218.5" font-size="23.5" text-anchor="end">VP</text>
<text class="b" x="985.8" y="1245.0" font-size="23.5" text-anchor="end">LS</text>
<text class="b" x="985.8" y="1271.4" font-size="23.5" text-anchor="end">LHb</text>
<text class="b" x="985.8" y="1297.9" font-size="23.5" text-anchor="end">dCA1</text>
<text class="b" x="985.8" y="1324.3" font-size="23.5" text-anchor="end">dCA3</text>
<text class="b" x="985.8" y="1350.8" font-size="23.5" text-anchor="end">DMD</text>
<text class="b" x="985.8" y="1377.2" font-size="23.5" text-anchor="end">CeA</text>
<text class="b" x="985.8" y="1403.7" font-size="23.5" text-anchor="end">BLA</text>
<text class="b" x="985.8" y="1430.1" font-size="23.5" text-anchor="end">dSub</text>
<text class="b" x="985.8" y="1456.6" font-size="23.5" text-anchor="end">DG</text>
<text class="b" x="985.8" y="1483.0" font-size="23.5" text-anchor="end">PVT</text>
<text class="b" x="985.8" y="1509.5" font-size="23.5" text-anchor="end">RSC</text>
<text class="b" x="985.8" y="1535.9" font-size="23.5" text-anchor="end">vCA1</text>
<text class="b" x="985.8" y="1562.4" font-size="23.5" text-anchor="end">vCA3</text>
<text class="b" x="985.8" y="1588.9" font-size="23.5" text-anchor="end">VTA</text>
<text class="b" x="985.8" y="1615.3" font-size="23.5" text-anchor="end">SNr</text>
<text class="b" x="985.8" y="1641.8" font-size="23.5" text-anchor="end">vSub</text>
<text class="b" x="985.8" y="1668.2" font-size="23.5" text-anchor="end">LEC</text>
<text class="b" x="985.8" y="1694.7" font-size="23.5" text-anchor="end">MEC</text>
<text class="b" x="985.8" y="1721.1" font-size="23.5" text-anchor="end">vPAG</text>
<text class="b" transform="translate(1014.2,1751.5) rotate(-45)" font-size="23.5" text-anchor="end">PrL</text>
<text class="b" transform="translate(1040.7,1751.5) rotate(-45)" font-size="23.5" text-anchor="end">IL</text>
<text class="b" transform="translate(1067.2,1751.5) rotate(-45)" font-size="23.5" text-anchor="end">OFC</text>
<text class="b" transform="translate(1093.7,1751.5) rotate(-45)" font-size="23.5" text-anchor="end">AIC</text>
<text class="b" transform="translate(1120.2,1751.5) rotate(-45)" font-size="23.5" text-anchor="end">ACC</text>
<text class="b" transform="translate(1146.7,1751.5) rotate(-45)" font-size="23.5" text-anchor="end">NAcc</text>
<text class="b" transform="translate(1173.2,1751.5) rotate(-45)" font-size="23.5" text-anchor="end">NAcSh</text>
<text class="b" transform="translate(1199.6,1751.5) rotate(-45)" font-size="23.5" text-anchor="end">VP</text>
<text class="b" transform="translate(1226.1,1751.5) rotate(-45)" font-size="23.5" text-anchor="end">LS</text>
<text class="b" transform="translate(1252.6,1751.5) rotate(-45)" font-size="23.5" text-anchor="end">LHb</text>
<text class="b" transform="translate(1279.1,1751.5) rotate(-45)" font-size="23.5" text-anchor="end">dCA1</text>
<text class="b" transform="translate(1305.6,1751.5) rotate(-45)" font-size="23.5" text-anchor="end">dCA3</text>
<text class="b" transform="translate(1332.1,1751.5) rotate(-45)" font-size="23.5" text-anchor="end">DMD</text>
<text class="b" transform="translate(1358.6,1751.5) rotate(-45)" font-size="23.5" text-anchor="end">CeA</text>
<text class="b" transform="translate(1385.0,1751.5) rotate(-45)" font-size="23.5" text-anchor="end">BLA</text>
<text class="b" transform="translate(1411.5,1751.5) rotate(-45)" font-size="23.5" text-anchor="end">dSub</text>
<text class="b" transform="translate(1438.0,1751.5) rotate(-45)" font-size="23.5" text-anchor="end">DG</text>
<text class="b" transform="translate(1464.5,1751.5) rotate(-45)" font-size="23.5" text-anchor="end">PVT</text>
<text class="b" transform="translate(1491.0,1751.5) rotate(-45)" font-size="23.5" text-anchor="end">RSC</text>
<text class="b" transform="translate(1517.5,1751.5) rotate(-45)" font-size="23.5" text-anchor="end">vCA1</text>
<text class="b" transform="translate(1543.9,1751.5) rotate(-45)" font-size="23.5" text-anchor="end">vCA3</text>
<text class="b" transform="translate(1570.4,1751.5) rotate(-45)" font-size="23.5" text-anchor="end">VTA</text>
<text class="b" transform="translate(1596.9,1751.5) rotate(-45)" font-size="23.5" text-anchor="end">SNr</text>
<text class="b" transform="translate(1623.4,1751.5) rotate(-45)" font-size="23.5" text-anchor="end">vSub</text>
<text class="b" transform="translate(1649.9,1751.5) rotate(-45)" font-size="23.5" text-anchor="end">LEC</text>
<text class="b" transform="translate(1676.4,1751.5) rotate(-45)" font-size="23.5" text-anchor="end">MEC</text>
<text class="b" transform="translate(1702.9,1751.5) rotate(-45)" font-size="23.5" text-anchor="end">vPAG</text>
<g stroke="#000" stroke-width="3" fill="none">
<path d="M119.2 1936.0 V2444.5 H849.7"/>
<path d="M108.5 1937.5 H119.2"/>
<path d="M108.5 2064.2 H119.2"/>
<path d="M108.5 2191.0 H119.2"/>
<path d="M108.5 2317.8 H119.2"/>
<path d="M108.5 2444.5 H119.2"/>
</g>
<text x="96.6" y="1944.1" font-size="37.7" text-anchor="end">1.0</text>
<text x="96.6" y="2070.8" font-size="37.7" text-anchor="end">0.5</text>
<text x="96.6" y="2197.6" font-size="37.7" text-anchor="end">0.0</text>
<text x="96.6" y="2324.3" font-size="37.7" text-anchor="end">-0.5</text>
<text x="96.6" y="2451.1" font-size="37.7" text-anchor="end">-1.0</text>
<text transform="translate(34.1,2192.5) rotate(-90)" font-size="39.3" text-anchor="middle">Mean r</text>
<path d="M223.7 1939.3C220.9 1942.2 210.1 1952.2 207.0 1956.9C203.9 1961.6 205.3 1961.9 205.1 1967.3C204.9 1972.8 206.6 1984.0 205.8 1989.7C205.1 1995.5 202.3 1997.5 200.6 2001.7C198.8 2005.9 196.2 2011.1 195.4 2015.1C194.5 2019.1 196.0 2021.8 195.4 2025.6C194.7 2029.3 194.7 2032.8 191.6 2037.5C188.5 2042.3 179.4 2050.5 176.7 2054.0C174.0 2057.4 175.2 2056.6 175.5 2058.4C175.7 2060.3 175.4 2061.7 178.2 2065.2C181.0 2068.6 189.5 2075.5 192.4 2079.3C195.2 2083.2 194.9 2085.8 195.4 2088.3C195.9 2090.8 195.7 2090.0 195.4 2094.3C195.0 2098.5 193.0 2108.7 193.1 2113.7C193.2 2118.7 195.1 2120.7 196.1 2124.1C197.1 2127.6 199.0 2130.9 199.1 2134.6C199.2 2138.3 196.6 2143.1 196.9 2146.5C197.1 2150.0 198.0 2152.3 200.6 2155.5C203.2 2158.7 210.3 2163.2 212.5 2166.0C214.8 2168.7 214.4 2169.2 214.0 2171.9C213.7 2174.7 210.9 2180.5 210.3 2182.4C209.7 2184.2 210.2 2181.7 210.3 2183.0C210.4 2184.2 210.4 2187.9 211.0 2189.9C211.7 2191.8 212.9 2191.6 214.0 2194.9C215.2 2198.3 218.1 2204.9 218.1 2209.9C218.1 2214.8 214.9 2219.8 214.0 2224.8C213.2 2229.8 213.6 2235.3 213.0 2239.7C212.4 2244.2 211.3 2247.8 210.3 2251.7C209.3 2255.5 206.6 2258.7 206.9 2262.9C207.1 2267.1 209.3 2271.5 211.8 2277.1C214.2 2282.7 219.6 2290.3 221.5 2296.5C223.4 2302.7 223.1 2309.9 223.4 2314.4C223.8 2318.9 224.0 2320.4 223.7 2323.4C223.5 2326.4 222.6 2329.3 221.9 2332.3C221.3 2335.3 219.7 2338.1 220.0 2341.3C220.3 2344.5 222.5 2347.5 223.7 2351.7C225.0 2356.0 226.4 2361.7 227.5 2366.7C228.5 2371.7 229.4 2377.9 230.0 2381.6C230.6 2385.3 231.3 2385.3 231.1 2389.1C230.8 2392.8 228.7 2400.4 228.2 2404.0C227.7 2407.6 227.8 2409.3 227.9 2410.7C228.0 2412.2 228.8 2412.2 229.0 2412.5L233.4 2412.5C233.6 2412.2 234.4 2412.2 234.5 2410.7C234.6 2409.3 234.7 2407.6 234.2 2404.0C233.7 2400.4 231.6 2392.8 231.3 2389.1C231.1 2385.3 231.8 2385.3 232.4 2381.6C233.0 2377.9 233.9 2371.7 234.9 2366.7C236.0 2361.7 237.4 2356.0 238.7 2351.7C239.9 2347.5 242.1 2344.5 242.4 2341.3C242.7 2338.1 241.1 2335.3 240.5 2332.3C239.8 2329.3 238.9 2326.4 238.7 2323.4C238.4 2320.4 238.6 2318.9 239.0 2314.4C239.3 2309.9 239.0 2302.7 240.9 2296.5C242.8 2290.3 248.2 2282.7 250.6 2277.1C253.1 2271.5 255.3 2267.1 255.5 2262.9C255.8 2258.7 253.1 2255.5 252.1 2251.7C251.1 2247.8 250.0 2244.2 249.4 2239.7C248.8 2235.3 249.2 2229.8 248.4 2224.8C247.5 2219.8 244.3 2214.8 244.3 2209.9C244.3 2204.9 247.2 2198.3 248.4 2194.9C249.5 2191.6 250.7 2191.8 251.4 2189.9C252.0 2187.9 252.0 2184.2 252.1 2183.0C252.2 2181.7 252.7 2184.2 252.1 2182.4C251.5 2180.5 248.7 2174.7 248.4 2171.9C248.0 2169.2 247.6 2168.7 249.9 2166.0C252.1 2163.2 259.2 2158.7 261.8 2155.5C264.4 2152.3 265.3 2150.0 265.5 2146.5C265.8 2143.1 263.2 2138.3 263.3 2134.6C263.4 2130.9 265.3 2127.6 266.3 2124.1C267.3 2120.7 269.2 2118.7 269.3 2113.7C269.4 2108.7 267.4 2098.5 267.0 2094.3C266.7 2090.0 266.5 2090.8 267.0 2088.3C267.5 2085.8 267.2 2083.2 270.0 2079.3C272.9 2075.5 281.4 2068.6 284.2 2065.2C287.0 2061.7 286.7 2060.3 286.9 2058.4C287.2 2056.6 288.4 2057.4 285.7 2054.0C283.0 2050.5 273.9 2042.3 270.8 2037.5C267.7 2032.8 267.7 2029.3 267.0 2025.6C266.4 2021.8 267.9 2019.1 267.0 2015.1C266.2 2011.1 263.6 2005.9 261.8 2001.7C260.1 1997.5 257.3 1995.5 256.6 1989.7C255.8 1984.0 257.5 1972.8 257.3 1967.3C257.1 1961.9 258.5 1961.6 255.4 1956.9C252.3 1952.2 241.5 1942.2 238.7 1939.3Z" fill="#d6d6d6" stroke="#444" stroke-width="1.4" stroke-linejoin="round"/><path d="M192.5 2037.6 H269.9" stroke="#555" stroke-width="1.2" stroke-dasharray="1.7 1.9" fill="none"/><path d="M196.3 2094.7 H266.1" stroke="#555" stroke-width="1.3" fill="none"/><path d="M211.3 2183.4 H251.1" stroke="#555" stroke-width="1.2" stroke-dasharray="1.7 1.9" fill="none"/>
<path d="M393.1 1950.6C391.2 1953.1 386.1 1961.3 381.9 1965.8C377.6 1970.4 371.7 1973.8 367.7 1977.8C363.7 1981.8 361.1 1985.8 358.0 1989.7C354.9 1993.7 351.3 1998.2 349.0 2001.7C346.7 2005.2 344.7 2008.4 344.1 2010.6C343.5 2012.9 343.7 2013.1 345.3 2015.1C346.9 2017.1 352.0 2020.4 353.5 2022.6C355.0 2024.8 354.9 2026.2 354.3 2028.6C353.6 2030.9 350.3 2034.3 349.8 2036.8C349.3 2039.3 350.4 2040.9 351.3 2043.5C352.1 2046.1 355.0 2049.0 355.0 2052.5C355.0 2055.9 352.4 2060.9 351.3 2064.4C350.1 2067.9 348.4 2070.6 348.3 2073.4C348.2 2076.1 349.4 2078.1 350.5 2080.8C351.6 2083.6 354.7 2087.3 355.0 2089.8C355.2 2092.3 353.4 2093.8 352.0 2095.8C350.6 2097.8 347.8 2100.0 346.8 2101.7C345.8 2103.5 344.9 2104.0 346.0 2106.2C347.2 2108.5 351.4 2112.2 353.5 2115.2C355.6 2118.2 357.8 2120.2 358.7 2124.1C359.7 2128.1 359.3 2134.6 359.2 2139.1C359.1 2143.6 358.6 2147.8 358.0 2151.0C357.4 2154.3 355.2 2156.0 355.7 2158.5C356.2 2161.0 359.1 2163.5 361.0 2166.0C362.8 2168.5 366.2 2171.3 366.9 2173.4C367.7 2175.5 366.7 2176.7 365.5 2178.7C364.2 2180.6 359.2 2183.2 359.2 2185.4C359.2 2187.6 362.7 2189.6 365.5 2191.9C368.2 2194.3 373.3 2196.4 375.9 2199.4C378.5 2202.4 380.5 2206.4 381.1 2209.9C381.8 2213.4 379.8 2216.8 379.9 2220.3C380.1 2223.8 382.1 2227.5 381.9 2230.8C381.7 2234.0 380.5 2236.6 378.9 2239.7C377.3 2242.8 372.2 2246.0 372.2 2249.4C372.2 2252.9 376.8 2257.3 378.9 2260.6C381.0 2264.0 383.7 2266.6 384.9 2269.6C386.1 2272.6 386.1 2275.3 386.1 2278.6C386.0 2281.8 384.0 2285.5 384.6 2289.0C385.1 2292.5 387.7 2296.5 389.3 2299.5C391.0 2302.5 393.3 2304.7 394.6 2306.9C395.8 2309.2 396.9 2310.7 396.8 2312.9C396.7 2315.2 394.7 2317.6 393.8 2320.4C393.0 2323.1 391.7 2325.9 391.6 2329.3C391.5 2332.8 392.3 2337.3 393.1 2341.3C393.8 2345.3 395.1 2349.3 396.1 2353.2C397.1 2357.2 398.7 2361.7 399.1 2365.2C399.4 2368.7 398.7 2370.2 398.3 2374.1C397.9 2378.1 396.8 2385.0 396.5 2389.1C396.2 2393.2 396.5 2397.2 396.5 2398.8L403.1 2398.8C403.1 2397.2 403.4 2393.2 403.1 2389.1C402.8 2385.0 401.7 2378.1 401.3 2374.1C400.9 2370.2 400.2 2368.7 400.5 2365.2C400.9 2361.7 402.5 2357.2 403.5 2353.2C404.5 2349.3 405.8 2345.3 406.5 2341.3C407.3 2337.3 408.1 2332.8 408.0 2329.3C407.9 2325.9 406.6 2323.1 405.8 2320.4C404.9 2317.6 402.9 2315.2 402.8 2312.9C402.7 2310.7 403.8 2309.2 405.0 2306.9C406.3 2304.7 408.6 2302.5 410.3 2299.5C411.9 2296.5 414.5 2292.5 415.0 2289.0C415.6 2285.5 413.6 2281.8 413.5 2278.6C413.5 2275.3 413.5 2272.6 414.7 2269.6C415.9 2266.6 418.6 2264.0 420.7 2260.6C422.8 2257.3 427.4 2252.9 427.4 2249.4C427.4 2246.0 422.3 2242.8 420.7 2239.7C419.1 2236.6 417.9 2234.0 417.7 2230.8C417.5 2227.5 419.5 2223.8 419.7 2220.3C419.8 2216.8 417.8 2213.4 418.5 2209.9C419.1 2206.4 421.1 2202.4 423.7 2199.4C426.3 2196.4 431.4 2194.3 434.1 2191.9C436.9 2189.6 440.4 2187.6 440.4 2185.4C440.4 2183.2 435.4 2180.6 434.1 2178.7C432.9 2176.7 431.9 2175.5 432.7 2173.4C433.4 2171.3 436.8 2168.5 438.6 2166.0C440.5 2163.5 443.4 2161.0 443.9 2158.5C444.4 2156.0 442.2 2154.3 441.6 2151.0C441.0 2147.8 440.5 2143.6 440.4 2139.1C440.3 2134.6 439.9 2128.1 440.9 2124.1C441.8 2120.2 444.0 2118.2 446.1 2115.2C448.2 2112.2 452.4 2108.5 453.6 2106.2C454.7 2104.0 453.8 2103.5 452.8 2101.7C451.8 2100.0 449.0 2097.8 447.6 2095.8C446.2 2093.8 444.4 2092.3 444.6 2089.8C444.9 2087.3 448.0 2083.6 449.1 2080.8C450.2 2078.1 451.4 2076.1 451.3 2073.4C451.2 2070.6 449.5 2067.9 448.3 2064.4C447.2 2060.9 444.6 2055.9 444.6 2052.5C444.6 2049.0 447.5 2046.1 448.3 2043.5C449.2 2040.9 450.3 2039.3 449.8 2036.8C449.3 2034.3 446.0 2030.9 445.3 2028.6C444.7 2026.2 444.6 2024.8 446.1 2022.6C447.6 2020.4 452.7 2017.1 454.3 2015.1C455.9 2013.1 456.1 2012.9 455.5 2010.6C454.9 2008.4 452.9 2005.2 450.6 2001.7C448.3 1998.2 444.7 1993.7 441.6 1989.7C438.5 1985.8 435.9 1981.8 431.9 1977.8C427.9 1973.8 422.0 1970.4 417.7 1965.8C413.5 1961.3 408.4 1953.1 406.5 1950.6Z" fill="#9cc4f8" stroke="#1a1aff" stroke-width="1.7" stroke-linejoin="round"/><path d="M351.0 2037.6 H448.6" stroke="#1a1aff" stroke-width="1.2" stroke-dasharray="1.7 1.9" fill="none"/><path d="M347.7 2102.3 H451.9" stroke="#1a1aff" stroke-width="1.3" fill="none"/><path d="M365.6 2179.6 H434.0" stroke="#1a1aff" stroke-width="1.2" stroke-dasharray="1.7 1.9" fill="none"/>
<path d="M563.0 1949.1C561.4 1950.9 555.4 1956.8 553.3 1959.9C551.2 1962.9 550.6 1964.1 550.3 1967.3C550.0 1970.6 551.9 1974.6 551.5 1979.3C551.0 1984.0 548.1 1990.0 547.6 1995.7C547.1 2001.4 549.2 2008.7 548.5 2013.6C547.8 2018.6 546.5 2022.1 543.6 2025.6C540.6 2029.1 534.5 2031.8 530.9 2034.5C527.3 2037.3 523.6 2039.9 521.9 2042.0C520.2 2044.1 519.9 2045.0 520.4 2047.2C520.9 2049.5 523.0 2052.1 524.9 2055.4C526.8 2058.8 530.4 2064.0 531.6 2067.4C532.9 2070.8 533.4 2072.4 532.4 2075.6C531.4 2078.8 526.0 2083.4 525.6 2086.8C525.3 2090.2 529.1 2093.3 530.1 2095.8C531.1 2098.3 532.1 2099.1 531.6 2101.7C531.1 2104.4 526.9 2108.2 527.1 2111.5C527.4 2114.7 531.8 2118.5 533.1 2121.2C534.4 2123.8 535.4 2124.1 535.0 2127.1C534.7 2130.1 531.8 2135.3 530.9 2139.1C529.9 2142.8 530.9 2146.0 529.4 2149.5C527.9 2153.0 524.1 2157.0 521.9 2160.0C519.7 2163.0 517.5 2165.0 515.9 2167.5C514.4 2169.9 512.5 2172.8 512.5 2174.9C512.5 2177.0 515.0 2178.5 515.9 2180.0C516.9 2181.5 516.9 2182.4 518.2 2183.9C519.4 2185.4 522.7 2186.6 523.4 2189.0C524.1 2191.3 523.3 2194.9 522.7 2197.9C522.0 2200.9 518.9 2203.9 519.7 2206.9C520.4 2209.9 525.1 2212.9 527.1 2215.8C529.1 2218.8 531.1 2222.2 531.6 2224.8C532.1 2227.4 529.6 2228.5 530.1 2231.5C530.6 2234.5 533.7 2238.9 534.6 2242.7C535.5 2246.6 535.6 2250.9 535.3 2254.7C535.1 2258.4 532.5 2261.6 533.1 2265.1C533.7 2268.6 537.3 2271.8 539.1 2275.6C540.8 2279.3 542.1 2283.5 543.6 2287.5C545.1 2291.5 547.5 2295.7 548.0 2299.5C548.5 2303.2 546.0 2306.4 546.5 2309.9C547.0 2313.4 550.0 2316.6 551.0 2320.4C552.0 2324.1 552.0 2328.8 552.5 2332.3C553.0 2335.8 552.8 2338.1 554.0 2341.3C555.3 2344.5 558.1 2348.3 560.0 2351.7C561.9 2355.2 564.3 2359.0 565.2 2362.2C566.1 2365.4 565.7 2368.2 565.2 2371.2C564.7 2374.1 563.0 2377.1 562.2 2380.1C561.5 2383.1 561.0 2386.6 560.7 2389.1C560.5 2391.6 560.5 2393.5 560.7 2395.1C560.9 2396.6 561.7 2397.8 561.9 2398.3L574.5 2398.3C574.7 2397.8 575.5 2396.6 575.7 2395.1C575.9 2393.5 575.9 2391.6 575.7 2389.1C575.4 2386.6 574.9 2383.1 574.2 2380.1C573.4 2377.1 571.7 2374.1 571.2 2371.2C570.7 2368.2 570.3 2365.4 571.2 2362.2C572.1 2359.0 574.5 2355.2 576.4 2351.7C578.3 2348.3 581.1 2344.5 582.4 2341.3C583.6 2338.1 583.4 2335.8 583.9 2332.3C584.4 2328.8 584.4 2324.1 585.4 2320.4C586.4 2316.6 589.4 2313.4 589.9 2309.9C590.4 2306.4 587.9 2303.2 588.4 2299.5C588.9 2295.7 591.3 2291.5 592.8 2287.5C594.3 2283.5 595.6 2279.3 597.3 2275.6C599.1 2271.8 602.7 2268.6 603.3 2265.1C603.9 2261.6 601.3 2258.4 601.1 2254.7C600.8 2250.9 600.9 2246.6 601.8 2242.7C602.7 2238.9 605.8 2234.5 606.3 2231.5C606.8 2228.5 604.3 2227.4 604.8 2224.8C605.3 2222.2 607.3 2218.8 609.3 2215.8C611.3 2212.9 616.0 2209.9 616.7 2206.9C617.5 2203.9 614.4 2200.9 613.7 2197.9C613.1 2194.9 612.3 2191.3 613.0 2189.0C613.7 2186.6 617.0 2185.4 618.2 2183.9C619.5 2182.4 619.5 2181.5 620.5 2180.0C621.4 2178.5 623.9 2177.0 623.9 2174.9C623.9 2172.8 622.0 2169.9 620.5 2167.5C618.9 2165.0 616.7 2163.0 614.5 2160.0C612.3 2157.0 608.5 2153.0 607.0 2149.5C605.5 2146.0 606.5 2142.8 605.5 2139.1C604.6 2135.3 601.7 2130.1 601.4 2127.1C601.0 2124.1 602.0 2123.8 603.3 2121.2C604.6 2118.5 609.0 2114.7 609.3 2111.5C609.5 2108.2 605.3 2104.4 604.8 2101.7C604.3 2099.1 605.3 2098.3 606.3 2095.8C607.3 2093.3 611.1 2090.2 610.8 2086.8C610.4 2083.4 605.0 2078.8 604.0 2075.6C603.0 2072.4 603.5 2070.8 604.8 2067.4C606.0 2064.0 609.6 2058.8 611.5 2055.4C613.4 2052.1 615.5 2049.5 616.0 2047.2C616.5 2045.0 616.2 2044.1 614.5 2042.0C612.8 2039.9 609.1 2037.3 605.5 2034.5C601.9 2031.8 595.8 2029.1 592.8 2025.6C589.9 2022.1 588.6 2018.6 587.9 2013.6C587.2 2008.7 589.3 2001.4 588.8 1995.7C588.3 1990.0 585.4 1984.0 584.9 1979.3C584.5 1974.6 586.4 1970.6 586.1 1967.3C585.8 1964.1 585.2 1962.9 583.1 1959.9C581.0 1956.8 575.0 1950.9 573.4 1949.1Z" fill="#808080" stroke="#000" stroke-width="1.7" stroke-linejoin="round"/><path d="M533.3 2075.7 H603.1" stroke="#000" stroke-width="1.2" stroke-dasharray="1.7 1.9" fill="none"/><path d="M522.4 2160.6 H614.0" stroke="#000" stroke-width="1.3" fill="none"/><path d="M531.1 2231.6 H605.3" stroke="#000" stroke-width="1.2" stroke-dasharray="1.7 1.9" fill="none"/>
<path d="M729.2 1946.1C727.2 1947.9 721.5 1953.1 717.0 1956.9C712.5 1960.7 706.8 1965.3 702.1 1968.8C697.3 1972.3 691.8 1975.1 688.6 1977.8C685.4 1980.5 683.7 1983.3 683.1 1985.3C682.5 1987.2 683.2 1987.5 684.9 1989.7C686.5 1992.0 691.0 1995.7 693.1 1998.7C695.2 2001.7 696.6 2005.3 697.3 2007.7C697.9 2010.0 698.0 2009.9 696.8 2012.9C695.6 2015.9 692.3 2021.5 690.1 2025.6C687.9 2029.7 685.0 2034.3 683.4 2037.5C681.8 2040.8 680.6 2042.5 680.7 2045.0C680.8 2047.5 682.1 2050.0 684.1 2052.5C686.2 2055.0 690.4 2056.7 693.1 2059.9C695.8 2063.2 697.9 2067.6 700.6 2071.9C703.2 2076.1 707.0 2081.1 708.8 2085.3C710.5 2089.5 710.3 2093.3 711.0 2097.3C711.8 2101.2 712.0 2105.2 713.3 2109.2C714.5 2113.2 717.4 2116.7 718.5 2121.2C719.6 2125.6 719.8 2131.6 720.0 2136.1C720.2 2140.6 720.3 2144.8 719.7 2148.0C719.1 2151.3 717.3 2152.8 716.2 2155.5C715.2 2158.2 713.4 2161.7 713.3 2164.5C713.1 2167.2 714.1 2169.3 715.5 2171.9C716.9 2174.5 720.1 2178.0 721.5 2180.0C722.8 2182.0 722.8 2182.4 723.7 2183.9C724.7 2185.4 726.5 2187.5 727.1 2189.0C727.8 2190.5 727.3 2190.9 727.4 2192.8C727.6 2194.8 728.3 2197.6 727.9 2200.9C727.5 2204.2 726.2 2208.6 725.2 2212.9C724.2 2217.1 722.2 2221.8 721.9 2226.3C721.7 2230.8 723.0 2235.3 723.7 2239.7C724.4 2244.2 726.2 2249.2 726.2 2253.2C726.2 2257.2 724.6 2259.9 723.7 2263.6C722.8 2267.4 721.0 2271.6 721.0 2275.6C721.0 2279.6 722.9 2284.0 723.7 2287.5C724.5 2291.0 725.9 2293.3 725.6 2296.5C725.4 2299.7 722.4 2303.5 722.2 2306.9C722.0 2310.4 723.8 2313.7 724.5 2317.4C725.1 2321.1 725.7 2324.9 726.2 2329.3C726.7 2333.8 726.9 2339.3 727.4 2344.3C728.0 2349.3 729.1 2354.2 729.7 2359.2C730.3 2364.2 730.7 2370.0 731.2 2374.1C731.7 2378.3 732.4 2382.2 732.7 2383.9L740.1 2383.9C740.4 2382.2 741.1 2378.3 741.6 2374.1C742.1 2370.0 742.5 2364.2 743.1 2359.2C743.7 2354.2 744.8 2349.3 745.4 2344.3C745.9 2339.3 746.1 2333.8 746.6 2329.3C747.1 2324.9 747.7 2321.1 748.3 2317.4C749.0 2313.7 750.8 2310.4 750.6 2306.9C750.4 2303.5 747.4 2299.7 747.2 2296.5C746.9 2293.3 748.3 2291.0 749.1 2287.5C749.9 2284.0 751.8 2279.6 751.8 2275.6C751.8 2271.6 750.0 2267.4 749.1 2263.6C748.2 2259.9 746.6 2257.2 746.6 2253.2C746.6 2249.2 748.4 2244.2 749.1 2239.7C749.8 2235.3 751.1 2230.8 750.9 2226.3C750.6 2221.8 748.6 2217.1 747.6 2212.9C746.6 2208.6 745.3 2204.2 744.9 2200.9C744.5 2197.6 745.2 2194.8 745.4 2192.8C745.5 2190.9 745.0 2190.5 745.7 2189.0C746.3 2187.5 748.1 2185.4 749.1 2183.9C750.0 2182.4 750.0 2182.0 751.3 2180.0C752.7 2178.0 755.9 2174.5 757.3 2171.9C758.7 2169.3 759.7 2167.2 759.5 2164.5C759.4 2161.7 757.6 2158.2 756.6 2155.5C755.5 2152.8 753.7 2151.3 753.1 2148.0C752.5 2144.8 752.6 2140.6 752.8 2136.1C753.0 2131.6 753.2 2125.6 754.3 2121.2C755.4 2116.7 758.3 2113.2 759.5 2109.2C760.8 2105.2 761.0 2101.2 761.8 2097.3C762.5 2093.3 762.3 2089.5 764.0 2085.3C765.8 2081.1 769.6 2076.1 772.2 2071.9C774.9 2067.6 777.0 2063.2 779.7 2059.9C782.4 2056.7 786.6 2055.0 788.7 2052.5C790.7 2050.0 792.0 2047.5 792.1 2045.0C792.2 2042.5 791.0 2040.8 789.4 2037.5C787.8 2034.3 784.9 2029.7 782.7 2025.6C780.5 2021.5 777.2 2015.9 776.0 2012.9C774.8 2009.9 774.9 2010.0 775.5 2007.7C776.2 2005.3 777.6 2001.7 779.7 1998.7C781.8 1995.7 786.3 1992.0 787.9 1989.7C789.6 1987.5 790.3 1987.2 789.7 1985.3C789.1 1983.3 787.4 1980.5 784.2 1977.8C781.0 1975.1 775.5 1972.3 770.7 1968.8C766.0 1965.3 760.3 1960.7 755.8 1956.9C751.3 1953.1 745.6 1947.9 743.6 1946.1Z" fill="#f29ba0" stroke="#f03a40" stroke-width="1.6" stroke-linejoin="round"/><path d="M697.9 2012.3 H774.9" stroke="#f03a40" stroke-width="1.2" stroke-dasharray="1.7 1.9" fill="none"/><path d="M693.2 2059.2 H779.6" stroke="#f03a40" stroke-width="1.3" fill="none"/><path d="M714.6 2165.7 H758.2" stroke="#f03a40" stroke-width="1.2" stroke-dasharray="1.7 1.9" fill="none"/>
<text x="238.6" y="2490.2" font-size="37.7" text-anchor="middle">D1-NT</text>
<text x="405.2" y="2490.2" font-size="37.7" text-anchor="middle">D1-T</text>
<text x="575.8" y="2490.2" font-size="37.7" text-anchor="middle">D14-NT</text>
<text x="742.9" y="2490.2" font-size="37.7" text-anchor="middle">D14-T</text>
<path d="M569.1 1921.2 H737.9" stroke="#000" stroke-width="3"/>
<text stroke="#000" stroke-width="0.8" x="656.7" y="1925.2" font-size="40.7" text-anchor="middle">***</text>
<rect x="1101.3" y="2267.9" width="106.6" height="177.3" fill="#d6d6d6" stroke="#555" stroke-width="1.2"/>
<path d="M1128.1 2260.3 H1181.1 M1154.6 2260.3 V2267.9" stroke="#c4c4c4" stroke-width="1.1" fill="none"/>
<rect x="1262.3" y="2275.0" width="106.6" height="170.2" fill="#9cc4f8" stroke="#1a1aff" stroke-width="1.2"/>
<path d="M1289.1 2266.9 H1342.1 M1315.6 2266.9 V2275.0" stroke="#8a8a8a" stroke-width="1.1" fill="none"/>
<rect x="1423.7" y="2331.5" width="106.6" height="113.7" fill="#808080" stroke="#111" stroke-width="1.2"/>
<path d="M1450.5 2324.7 H1503.5 M1477.0 2324.7 V2331.5" stroke="#8a8a8a" stroke-width="1.1" fill="none"/>
<rect x="1584.8" y="2236.5" width="106.6" height="208.7" fill="#f29ba0" stroke="#f03a40" stroke-width="1.2"/>
<path d="M1611.6 2227.8 H1664.6 M1638.1 2227.8 V2236.5" stroke="#9a8a8a" stroke-width="1.1" fill="none"/>
<g fill="#dcdcdc" fill-opacity="0.6" stroke="#222" stroke-opacity="0.9" stroke-width="1.15"><circle cx="1110.5" cy="2446.0" r="6"/><circle cx="1112.0" cy="2445.6" r="6"/><circle cx="1116.9" cy="2446.3" r="6"/><circle cx="1119.9" cy="2445.8" r="6"/><circle cx="1124.8" cy="2446.1" r="6"/><circle cx="1128.6" cy="2445.6" r="6"/><circle cx="1131.5" cy="2445.2" r="6"/><circle cx="1135.3" cy="2446.1" r="6"/><circle cx="1138.7" cy="2446.0" r="6"/><circle cx="1141.2" cy="2446.2" r="6"/><circle cx="1146.8" cy="2446.4" r="6"/><circle cx="1149.3" cy="2446.1" r="6"/><circle cx="1152.3" cy="2446.3" r="6"/><circle cx="1157.3" cy="2445.4" r="6"/><circle cx="1159.0" cy="2445.6" r="6"/><circle cx="1163.8" cy="2446.1" r="6"/><circle cx="1167.2" cy="2444.9" r="6"/><circle cx="1171.7" cy="2445.0" r="6"/><circle cx="1175.3" cy="2445.2" r="6"/><circle cx="1177.7" cy="2446.1" r="6"/><circle cx="1180.8" cy="2445.1" r="6"/><circle cx="1185.4" cy="2446.0" r="6"/><circle cx="1189.8" cy="2445.9" r="6"/><circle cx="1193.7" cy="2445.6" r="6"/><circle cx="1197.4" cy="2445.0" r="6"/><circle cx="1199.1" cy="2445.7" r="6"/><circle cx="1200.6" cy="2439.5" r="6"/><circle cx="1153.5" cy="2440.6" r="6"/><circle cx="1154.7" cy="2440.4" r="6"/><circle cx="1154.5" cy="2439.7" r="6"/><circle cx="1154.2" cy="2425.0" r="6"/><circle cx="1155.5" cy="2423.5" r="6"/><circle cx="1154.4" cy="2421.5" r="6"/><circle cx="1153.3" cy="2419.6" r="6"/><circle cx="1153.5" cy="2418.0" r="6"/><circle cx="1155.8" cy="2407.0" r="6"/><circle cx="1156.9" cy="2400.5" r="6"/><circle cx="1152.0" cy="2400.4" r="6"/><circle cx="1156.6" cy="2399.3" r="6"/><circle cx="1157.8" cy="2395.5" r="6"/><circle cx="1154.3" cy="2394.3" r="6"/><circle cx="1154.7" cy="2392.8" r="6"/><circle cx="1151.8" cy="2391.4" r="6"/><circle cx="1154.4" cy="2390.2" r="6"/><circle cx="1154.1" cy="2386.5" r="6"/><circle cx="1154.8" cy="2381.0" r="6"/><circle cx="1151.4" cy="2374.0" r="6"/><circle cx="1157.1" cy="2371.8" r="6"/><circle cx="1154.2" cy="2370.5" r="6"/><circle cx="1153.4" cy="2368.7" r="6"/><circle cx="1156.7" cy="2365.2" r="6"/><circle cx="1154.6" cy="2362.8" r="6"/><circle cx="1154.0" cy="2361.9" r="6"/><circle cx="1155.5" cy="2359.7" r="6"/><circle cx="1151.3" cy="2358.0" r="6"/><circle cx="1154.3" cy="2355.7" r="6"/><circle cx="1153.6" cy="2353.7" r="6"/><circle cx="1156.0" cy="2343.5" r="6"/><circle cx="1155.9" cy="2338.7" r="6"/><circle cx="1153.1" cy="2333.6" r="6"/><circle cx="1154.0" cy="2332.2" r="6"/><circle cx="1152.8" cy="2331.0" r="6"/><circle cx="1153.5" cy="2318.6" r="6"/><circle cx="1157.5" cy="2317.0" r="6"/><circle cx="1158.4" cy="2316.7" r="6"/><circle cx="1153.8" cy="2312.2" r="6"/><circle cx="1152.0" cy="2312.1" r="6"/><circle cx="1150.6" cy="2311.9" r="6"/><circle cx="1155.4" cy="2311.7" r="6"/><circle cx="1158.9" cy="2311.4" r="6"/><circle cx="1149.9" cy="2311.3" r="6"/><circle cx="1157.3" cy="2309.6" r="6"/><circle cx="1148.3" cy="2309.3" r="6"/><circle cx="1150.4" cy="2306.8" r="6"/><circle cx="1150.8" cy="2306.8" r="6"/><circle cx="1156.6" cy="2305.4" r="6"/><circle cx="1151.4" cy="2301.5" r="6"/><circle cx="1152.7" cy="2297.8" r="6"/><circle cx="1155.3" cy="2296.7" r="6"/><circle cx="1150.7" cy="2294.8" r="6"/><circle cx="1156.1" cy="2294.2" r="6"/><circle cx="1150.9" cy="2292.8" r="6"/><circle cx="1154.2" cy="2292.6" r="6"/><circle cx="1152.0" cy="2290.7" r="6"/><circle cx="1151.5" cy="2290.1" r="6"/><circle cx="1154.4" cy="2285.3" r="6"/><circle cx="1153.5" cy="2281.9" r="6"/><circle cx="1153.0" cy="2277.2" r="6"/><circle cx="1153.0" cy="2274.4" r="6"/><circle cx="1154.5" cy="2274.1" r="6"/><circle cx="1150.0" cy="2271.0" r="6"/><circle cx="1150.5" cy="2270.9" r="6"/><circle cx="1155.7" cy="2270.6" r="6"/><circle cx="1155.8" cy="2270.1" r="6"/><circle cx="1154.5" cy="2267.7" r="6"/><circle cx="1158.6" cy="2267.3" r="6"/><circle cx="1155.9" cy="2265.7" r="6"/><circle cx="1160.0" cy="2264.6" r="6"/><circle cx="1149.6" cy="2264.2" r="6"/><circle cx="1158.2" cy="2263.1" r="6"/><circle cx="1159.4" cy="2263.1" r="6"/><circle cx="1160.9" cy="2262.8" r="6"/><circle cx="1151.0" cy="2258.8" r="6"/><circle cx="1151.2" cy="2255.8" r="6"/><circle cx="1160.4" cy="2254.9" r="6"/><circle cx="1149.9" cy="2254.6" r="6"/><circle cx="1161.6" cy="2254.5" r="6"/><circle cx="1159.9" cy="2254.0" r="6"/><circle cx="1148.9" cy="2253.7" r="6"/><circle cx="1150.4" cy="2252.9" r="6"/><circle cx="1157.2" cy="2252.5" r="6"/><circle cx="1150.7" cy="2251.5" r="6"/><circle cx="1148.3" cy="2251.4" r="6"/><circle cx="1158.1" cy="2251.0" r="6"/><circle cx="1153.0" cy="2249.8" r="6"/><circle cx="1158.7" cy="2247.1" r="6"/><circle cx="1150.4" cy="2240.6" r="6"/><circle cx="1153.1" cy="2240.2" r="6"/><circle cx="1155.5" cy="2238.8" r="6"/><circle cx="1150.3" cy="2238.4" r="6"/><circle cx="1152.0" cy="2237.1" r="6"/><circle cx="1155.4" cy="2235.8" r="6"/><circle cx="1157.0" cy="2235.8" r="6"/><circle cx="1157.4" cy="2230.9" r="6"/><circle cx="1151.7" cy="2223.6" r="6"/><circle cx="1154.2" cy="2216.7" r="6"/><circle cx="1157.2" cy="2215.0" r="6"/><circle cx="1154.1" cy="2214.3" r="6"/><circle cx="1156.4" cy="2213.4" r="6"/><circle cx="1150.1" cy="2212.7" r="6"/><circle cx="1148.3" cy="2212.4" r="6"/><circle cx="1149.0" cy="2211.2" r="6"/><circle cx="1148.2" cy="2211.2" r="6"/><circle cx="1154.8" cy="2210.8" r="6"/><circle cx="1154.3" cy="2210.0" r="6"/><circle cx="1155.0" cy="2208.9" r="6"/><circle cx="1149.6" cy="2208.5" r="6"/><circle cx="1150.0" cy="2208.4" r="6"/><circle cx="1150.3" cy="2208.1" r="6"/><circle cx="1158.5" cy="2208.1" r="6"/><circle cx="1161.8" cy="2201.3" r="6"/><circle cx="1160.8" cy="2200.9" r="6"/><circle cx="1148.9" cy="2195.3" r="6"/><circle cx="1148.5" cy="2195.1" r="6"/><circle cx="1159.9" cy="2194.4" r="6"/><circle cx="1153.6" cy="2194.0" r="6"/><circle cx="1157.9" cy="2193.2" r="6"/><circle cx="1151.6" cy="2191.3" r="6"/><circle cx="1153.6" cy="2190.7" r="6"/><circle cx="1154.3" cy="2189.7" r="6"/><circle cx="1153.1" cy="2189.2" r="6"/><circle cx="1155.8" cy="2187.2" r="6"/><circle cx="1145.8" cy="2186.6" r="6"/><circle cx="1157.5" cy="2186.3" r="6"/><circle cx="1160.0" cy="2185.0" r="6"/><circle cx="1148.7" cy="2184.2" r="6"/><circle cx="1153.3" cy="2184.2" r="6"/><circle cx="1158.2" cy="2182.5" r="6"/><circle cx="1152.5" cy="2182.0" r="6"/><circle cx="1148.9" cy="2178.9" r="6"/><circle cx="1148.4" cy="2178.4" r="6"/><circle cx="1154.3" cy="2176.8" r="6"/><circle cx="1145.9" cy="2176.5" r="6"/><circle cx="1160.8" cy="2175.9" r="6"/><circle cx="1159.2" cy="2175.8" r="6"/><circle cx="1157.6" cy="2175.6" r="6"/><circle cx="1160.2" cy="2175.6" r="6"/><circle cx="1156.3" cy="2174.1" r="6"/><circle cx="1152.5" cy="2173.5" r="6"/><circle cx="1155.8" cy="2172.4" r="6"/><circle cx="1154.2" cy="2171.6" r="6"/><circle cx="1162.3" cy="2171.0" r="6"/><circle cx="1159.3" cy="2170.8" r="6"/><circle cx="1150.0" cy="2170.3" r="6"/><circle cx="1161.1" cy="2169.9" r="6"/><circle cx="1158.3" cy="2169.5" r="6"/><circle cx="1158.8" cy="2165.1" r="6"/><circle cx="1158.6" cy="2161.5" r="6"/><circle cx="1152.8" cy="2160.7" r="6"/><circle cx="1159.2" cy="2159.4" r="6"/><circle cx="1159.0" cy="2159.0" r="6"/><circle cx="1156.6" cy="2158.9" r="6"/><circle cx="1157.0" cy="2157.6" r="6"/><circle cx="1157.1" cy="2156.9" r="6"/><circle cx="1153.0" cy="2155.8" r="6"/><circle cx="1156.8" cy="2155.1" r="6"/><circle cx="1148.6" cy="2154.8" r="6"/><circle cx="1152.1" cy="2154.1" r="6"/><circle cx="1153.8" cy="2147.6" r="6"/><circle cx="1148.9" cy="2147.6" r="6"/><circle cx="1152.8" cy="2145.6" r="6"/><circle cx="1155.5" cy="2144.3" r="6"/><circle cx="1155.2" cy="2143.1" r="6"/><circle cx="1151.4" cy="2136.6" r="6"/><circle cx="1158.2" cy="2134.3" r="6"/><circle cx="1155.8" cy="2133.6" r="6"/><circle cx="1152.5" cy="2132.8" r="6"/><circle cx="1155.8" cy="2127.3" r="6"/><circle cx="1154.8" cy="2127.3" r="6"/><circle cx="1154.5" cy="2125.9" r="6"/><circle cx="1152.8" cy="2124.9" r="6"/><circle cx="1159.8" cy="2123.2" r="6"/><circle cx="1155.7" cy="2122.4" r="6"/><circle cx="1156.4" cy="2121.8" r="6"/><circle cx="1156.9" cy="2119.5" r="6"/><circle cx="1159.2" cy="2118.9" r="6"/><circle cx="1148.3" cy="2116.9" r="6"/><circle cx="1155.5" cy="2113.8" r="6"/><circle cx="1157.2" cy="2113.7" r="6"/><circle cx="1151.3" cy="2111.1" r="6"/><circle cx="1153.1" cy="2109.4" r="6"/><circle cx="1149.6" cy="2106.5" r="6"/><circle cx="1151.1" cy="2105.8" r="6"/><circle cx="1152.9" cy="2103.6" r="6"/><circle cx="1149.8" cy="2102.9" r="6"/><circle cx="1151.4" cy="2102.7" r="6"/><circle cx="1158.1" cy="2102.0" r="6"/><circle cx="1154.5" cy="2097.2" r="6"/><circle cx="1154.2" cy="2096.0" r="6"/><circle cx="1158.1" cy="2093.5" r="6"/><circle cx="1154.7" cy="2091.3" r="6"/><circle cx="1157.6" cy="2089.0" r="6"/><circle cx="1155.1" cy="2085.3" r="6"/><circle cx="1156.3" cy="2084.6" r="6"/><circle cx="1150.8" cy="2081.3" r="6"/><circle cx="1154.8" cy="2078.4" r="6"/><circle cx="1156.5" cy="2073.6" r="6"/><circle cx="1150.2" cy="2072.8" r="6"/><circle cx="1157.8" cy="2071.7" r="6"/><circle cx="1151.2" cy="2071.7" r="6"/><circle cx="1153.8" cy="2064.9" r="6"/><circle cx="1150.1" cy="2063.8" r="6"/><circle cx="1154.0" cy="2063.3" r="6"/><circle cx="1155.6" cy="2062.5" r="6"/><circle cx="1148.1" cy="2061.3" r="6"/><circle cx="1159.5" cy="2059.1" r="6"/><circle cx="1153.1" cy="2058.6" r="6"/><circle cx="1154.4" cy="2058.5" r="6"/><circle cx="1155.6" cy="2054.5" r="6"/><circle cx="1152.1" cy="2054.4" r="6"/><circle cx="1151.0" cy="2053.0" r="6"/><circle cx="1156.4" cy="2052.5" r="6"/><circle cx="1155.0" cy="2051.8" r="6"/><circle cx="1150.9" cy="2051.7" r="6"/><circle cx="1157.2" cy="2050.1" r="6"/><circle cx="1151.3" cy="2049.2" r="6"/><circle cx="1147.9" cy="2047.0" r="6"/><circle cx="1151.2" cy="2044.5" r="6"/><circle cx="1148.9" cy="2044.1" r="6"/><circle cx="1150.2" cy="2043.0" r="6"/><circle cx="1156.5" cy="2041.0" r="6"/><circle cx="1153.2" cy="2040.1" r="6"/><circle cx="1156.9" cy="2039.1" r="6"/><circle cx="1155.9" cy="2026.4" r="6"/><circle cx="1150.3" cy="2022.5" r="6"/><circle cx="1158.3" cy="2021.6" r="6"/><circle cx="1158.5" cy="2018.4" r="6"/><circle cx="1149.9" cy="2018.0" r="6"/><circle cx="1158.4" cy="2017.7" r="6"/><circle cx="1153.3" cy="2016.5" r="6"/><circle cx="1153.8" cy="2016.4" r="6"/><circle cx="1159.5" cy="2014.8" r="6"/><circle cx="1150.8" cy="2011.4" r="6"/><circle cx="1154.4" cy="2011.0" r="6"/><circle cx="1160.7" cy="2009.7" r="6"/><circle cx="1157.8" cy="2008.0" r="6"/><circle cx="1153.6" cy="2006.2" r="6"/><circle cx="1162.0" cy="2005.6" r="6"/><circle cx="1158.6" cy="2002.5" r="6"/><circle cx="1155.6" cy="2001.4" r="6"/><circle cx="1148.6" cy="1999.7" r="6"/><circle cx="1155.7" cy="1999.2" r="6"/><circle cx="1153.5" cy="1999.2" r="6"/><circle cx="1150.3" cy="1999.2" r="6"/><circle cx="1148.3" cy="1998.9" r="6"/><circle cx="1154.5" cy="1998.9" r="6"/><circle cx="1149.5" cy="1997.8" r="6"/><circle cx="1153.4" cy="1997.6" r="6"/><circle cx="1156.0" cy="1995.9" r="6"/><circle cx="1153.6" cy="1995.5" r="6"/><circle cx="1151.4" cy="1995.4" r="6"/><circle cx="1154.2" cy="1976.4" r="6"/></g>
<g fill="#cfe4fb" fill-opacity="0.85" stroke="#2a3540" stroke-opacity="0.9" stroke-width="1.15"><circle cx="1270.6" cy="2446.0" r="6"/><circle cx="1273.9" cy="2446.1" r="6"/><circle cx="1277.2" cy="2445.1" r="6"/><circle cx="1281.1" cy="2445.9" r="6"/><circle cx="1286.7" cy="2445.2" r="6"/><circle cx="1289.8" cy="2446.2" r="6"/><circle cx="1294.3" cy="2445.0" r="6"/><circle cx="1297.2" cy="2445.1" r="6"/><circle cx="1300.8" cy="2445.5" r="6"/><circle cx="1304.6" cy="2446.3" r="6"/><circle cx="1309.5" cy="2445.7" r="6"/><circle cx="1314.0" cy="2446.1" r="6"/><circle cx="1318.4" cy="2445.5" r="6"/><circle cx="1321.0" cy="2445.5" r="6"/><circle cx="1324.1" cy="2445.5" r="6"/><circle cx="1329.9" cy="2446.4" r="6"/><circle cx="1334.1" cy="2445.9" r="6"/><circle cx="1337.5" cy="2444.9" r="6"/><circle cx="1340.6" cy="2445.4" r="6"/><circle cx="1345.4" cy="2445.1" r="6"/><circle cx="1348.6" cy="2445.7" r="6"/><circle cx="1353.7" cy="2446.1" r="6"/><circle cx="1357.1" cy="2445.1" r="6"/><circle cx="1361.5" cy="2446.3" r="6"/><circle cx="1270.6" cy="2435.8" r="6"/><circle cx="1277.6" cy="2439.5" r="6"/><circle cx="1287.6" cy="2431.1" r="6"/><circle cx="1293.6" cy="2434.8" r="6"/><circle cx="1332.6" cy="2438.6" r="6"/><circle cx="1303.6" cy="2443.3" r="6"/><circle cx="1316.0" cy="2437.2" r="6"/><circle cx="1315.1" cy="2436.8" r="6"/><circle cx="1315.8" cy="2433.6" r="6"/><circle cx="1314.0" cy="2433.3" r="6"/><circle cx="1316.9" cy="2432.8" r="6"/><circle cx="1319.6" cy="2427.1" r="6"/><circle cx="1315.9" cy="2420.1" r="6"/><circle cx="1317.0" cy="2419.6" r="6"/><circle cx="1318.4" cy="2417.2" r="6"/><circle cx="1313.4" cy="2415.6" r="6"/><circle cx="1318.9" cy="2414.4" r="6"/><circle cx="1317.0" cy="2412.8" r="6"/><circle cx="1313.2" cy="2407.5" r="6"/><circle cx="1312.2" cy="2407.0" r="6"/><circle cx="1313.6" cy="2406.8" r="6"/><circle cx="1316.3" cy="2402.4" r="6"/><circle cx="1317.2" cy="2402.2" r="6"/><circle cx="1314.5" cy="2401.1" r="6"/><circle cx="1319.5" cy="2396.7" r="6"/><circle cx="1314.7" cy="2391.7" r="6"/><circle cx="1315.6" cy="2390.0" r="6"/><circle cx="1313.7" cy="2388.6" r="6"/><circle cx="1318.8" cy="2387.1" r="6"/><circle cx="1313.7" cy="2383.4" r="6"/><circle cx="1318.1" cy="2382.2" r="6"/><circle cx="1316.0" cy="2375.8" r="6"/><circle cx="1316.1" cy="2370.4" r="6"/><circle cx="1316.2" cy="2366.1" r="6"/><circle cx="1314.3" cy="2365.2" r="6"/><circle cx="1319.6" cy="2361.3" r="6"/><circle cx="1321.4" cy="2359.3" r="6"/><circle cx="1319.4" cy="2358.8" r="6"/><circle cx="1317.0" cy="2358.2" r="6"/><circle cx="1312.0" cy="2353.2" r="6"/><circle cx="1319.0" cy="2353.2" r="6"/><circle cx="1313.7" cy="2353.1" r="6"/><circle cx="1319.8" cy="2352.7" r="6"/><circle cx="1313.2" cy="2351.8" r="6"/><circle cx="1316.5" cy="2348.4" r="6"/><circle cx="1319.1" cy="2348.1" r="6"/><circle cx="1312.7" cy="2348.0" r="6"/><circle cx="1316.3" cy="2346.5" r="6"/><circle cx="1312.5" cy="2338.0" r="6"/><circle cx="1311.8" cy="2335.5" r="6"/><circle cx="1313.1" cy="2334.9" r="6"/><circle cx="1319.6" cy="2332.6" r="6"/><circle cx="1319.5" cy="2330.9" r="6"/><circle cx="1317.4" cy="2328.2" r="6"/><circle cx="1313.7" cy="2326.0" r="6"/><circle cx="1317.6" cy="2325.6" r="6"/><circle cx="1318.5" cy="2324.3" r="6"/><circle cx="1314.3" cy="2323.8" r="6"/><circle cx="1316.8" cy="2320.2" r="6"/><circle cx="1319.0" cy="2316.6" r="6"/><circle cx="1310.3" cy="2316.5" r="6"/><circle cx="1312.6" cy="2316.2" r="6"/><circle cx="1315.5" cy="2314.7" r="6"/><circle cx="1312.2" cy="2313.6" r="6"/><circle cx="1314.7" cy="2312.5" r="6"/><circle cx="1316.5" cy="2312.3" r="6"/><circle cx="1311.6" cy="2308.8" r="6"/><circle cx="1316.1" cy="2304.8" r="6"/><circle cx="1313.1" cy="2302.1" r="6"/><circle cx="1316.6" cy="2301.2" r="6"/><circle cx="1314.1" cy="2299.8" r="6"/><circle cx="1317.2" cy="2299.5" r="6"/><circle cx="1311.2" cy="2299.2" r="6"/><circle cx="1317.5" cy="2299.1" r="6"/><circle cx="1312.0" cy="2298.0" r="6"/><circle cx="1322.0" cy="2295.4" r="6"/><circle cx="1317.2" cy="2295.3" r="6"/><circle cx="1315.4" cy="2295.3" r="6"/><circle cx="1314.4" cy="2289.8" r="6"/><circle cx="1317.5" cy="2286.2" r="6"/><circle cx="1318.2" cy="2286.0" r="6"/><circle cx="1319.1" cy="2285.0" r="6"/><circle cx="1319.2" cy="2284.3" r="6"/><circle cx="1315.6" cy="2284.1" r="6"/><circle cx="1322.5" cy="2283.9" r="6"/><circle cx="1319.9" cy="2281.2" r="6"/><circle cx="1320.4" cy="2280.8" r="6"/><circle cx="1314.6" cy="2280.2" r="6"/><circle cx="1314.9" cy="2279.8" r="6"/><circle cx="1316.7" cy="2278.3" r="6"/><circle cx="1322.2" cy="2275.8" r="6"/><circle cx="1316.2" cy="2274.5" r="6"/><circle cx="1316.2" cy="2272.9" r="6"/><circle cx="1314.7" cy="2271.2" r="6"/><circle cx="1322.4" cy="2269.2" r="6"/><circle cx="1313.0" cy="2268.9" r="6"/><circle cx="1309.1" cy="2267.1" r="6"/><circle cx="1319.0" cy="2266.4" r="6"/><circle cx="1322.1" cy="2265.0" r="6"/><circle cx="1319.4" cy="2264.9" r="6"/><circle cx="1317.4" cy="2263.5" r="6"/><circle cx="1320.1" cy="2263.5" r="6"/><circle cx="1312.6" cy="2262.6" r="6"/><circle cx="1317.3" cy="2261.9" r="6"/><circle cx="1309.0" cy="2260.7" r="6"/><circle cx="1309.9" cy="2259.8" r="6"/><circle cx="1315.0" cy="2259.3" r="6"/><circle cx="1315.8" cy="2259.2" r="6"/><circle cx="1314.4" cy="2255.7" r="6"/><circle cx="1310.0" cy="2254.0" r="6"/><circle cx="1318.3" cy="2253.7" r="6"/><circle cx="1316.1" cy="2252.7" r="6"/><circle cx="1312.5" cy="2252.5" r="6"/><circle cx="1313.5" cy="2251.7" r="6"/><circle cx="1315.0" cy="2243.8" r="6"/><circle cx="1313.7" cy="2241.9" r="6"/><circle cx="1312.4" cy="2241.8" r="6"/><circle cx="1318.4" cy="2237.8" r="6"/><circle cx="1320.1" cy="2233.2" r="6"/><circle cx="1317.2" cy="2231.9" r="6"/><circle cx="1318.9" cy="2231.8" r="6"/><circle cx="1315.1" cy="2228.3" r="6"/><circle cx="1318.4" cy="2225.3" r="6"/><circle cx="1313.2" cy="2224.8" r="6"/><circle cx="1318.3" cy="2222.4" r="6"/><circle cx="1316.5" cy="2221.9" r="6"/><circle cx="1320.4" cy="2218.2" r="6"/><circle cx="1310.9" cy="2218.1" r="6"/><circle cx="1319.3" cy="2215.8" r="6"/><circle cx="1311.2" cy="2213.4" r="6"/><circle cx="1316.3" cy="2212.3" r="6"/><circle cx="1321.3" cy="2210.1" r="6"/><circle cx="1309.0" cy="2208.2" r="6"/><circle cx="1312.3" cy="2208.0" r="6"/><circle cx="1312.9" cy="2206.9" r="6"/><circle cx="1313.3" cy="2206.8" r="6"/><circle cx="1309.9" cy="2206.4" r="6"/><circle cx="1320.9" cy="2205.6" r="6"/><circle cx="1320.1" cy="2202.6" r="6"/><circle cx="1314.5" cy="2200.5" r="6"/><circle cx="1314.0" cy="2199.5" r="6"/><circle cx="1317.0" cy="2196.9" r="6"/><circle cx="1309.3" cy="2196.6" r="6"/><circle cx="1309.1" cy="2196.6" r="6"/><circle cx="1321.2" cy="2195.4" r="6"/><circle cx="1313.7" cy="2192.3" r="6"/><circle cx="1315.8" cy="2191.0" r="6"/><circle cx="1320.7" cy="2187.9" r="6"/><circle cx="1320.9" cy="2187.6" r="6"/><circle cx="1315.5" cy="2187.4" r="6"/><circle cx="1312.0" cy="2185.1" r="6"/><circle cx="1313.6" cy="2184.5" r="6"/><circle cx="1320.3" cy="2180.5" r="6"/><circle cx="1319.8" cy="2178.1" r="6"/><circle cx="1312.8" cy="2177.0" r="6"/><circle cx="1318.4" cy="2174.4" r="6"/><circle cx="1314.7" cy="2174.0" r="6"/><circle cx="1315.6" cy="2173.4" r="6"/><circle cx="1313.7" cy="2170.9" r="6"/><circle cx="1318.2" cy="2170.5" r="6"/><circle cx="1319.7" cy="2157.2" r="6"/><circle cx="1313.5" cy="2156.7" r="6"/><circle cx="1316.8" cy="2156.6" r="6"/><circle cx="1313.4" cy="2154.7" r="6"/><circle cx="1318.8" cy="2154.6" r="6"/><circle cx="1312.3" cy="2154.1" r="6"/><circle cx="1312.7" cy="2153.9" r="6"/><circle cx="1318.4" cy="2147.9" r="6"/><circle cx="1313.5" cy="2145.5" r="6"/><circle cx="1320.7" cy="2145.5" r="6"/><circle cx="1318.7" cy="2141.8" r="6"/><circle cx="1317.5" cy="2141.8" r="6"/><circle cx="1312.7" cy="2140.3" r="6"/><circle cx="1317.6" cy="2138.9" r="6"/><circle cx="1319.8" cy="2137.4" r="6"/><circle cx="1315.3" cy="2134.4" r="6"/><circle cx="1311.9" cy="2133.3" r="6"/><circle cx="1313.4" cy="2129.4" r="6"/><circle cx="1314.2" cy="2128.3" r="6"/><circle cx="1317.9" cy="2125.4" r="6"/><circle cx="1311.9" cy="2122.1" r="6"/><circle cx="1311.7" cy="2121.8" r="6"/><circle cx="1312.4" cy="2120.0" r="6"/><circle cx="1318.2" cy="2116.5" r="6"/><circle cx="1320.2" cy="2115.3" r="6"/><circle cx="1313.8" cy="2115.1" r="6"/><circle cx="1318.3" cy="2115.0" r="6"/><circle cx="1322.3" cy="2114.5" r="6"/><circle cx="1317.3" cy="2113.4" r="6"/><circle cx="1311.2" cy="2112.7" r="6"/><circle cx="1312.4" cy="2112.3" r="6"/><circle cx="1323.1" cy="2112.0" r="6"/><circle cx="1318.6" cy="2111.5" r="6"/><circle cx="1312.0" cy="2108.5" r="6"/><circle cx="1318.2" cy="2108.1" r="6"/><circle cx="1308.8" cy="2107.6" r="6"/><circle cx="1324.0" cy="2106.6" r="6"/><circle cx="1314.8" cy="2104.6" r="6"/><circle cx="1316.3" cy="2104.0" r="6"/><circle cx="1316.3" cy="2103.5" r="6"/><circle cx="1308.1" cy="2102.8" r="6"/><circle cx="1317.5" cy="2102.8" r="6"/><circle cx="1312.1" cy="2102.7" r="6"/><circle cx="1311.6" cy="2100.9" r="6"/><circle cx="1321.0" cy="2099.1" r="6"/><circle cx="1308.8" cy="2098.8" r="6"/><circle cx="1312.1" cy="2098.4" r="6"/><circle cx="1320.1" cy="2097.1" r="6"/><circle cx="1311.5" cy="2094.9" r="6"/><circle cx="1312.0" cy="2094.7" r="6"/><circle cx="1316.6" cy="2093.8" r="6"/><circle cx="1310.5" cy="2093.3" r="6"/><circle cx="1322.5" cy="2091.9" r="6"/><circle cx="1323.5" cy="2089.9" r="6"/><circle cx="1308.5" cy="2088.8" r="6"/><circle cx="1315.2" cy="2088.6" r="6"/><circle cx="1320.1" cy="2086.7" r="6"/><circle cx="1313.9" cy="2086.3" r="6"/><circle cx="1322.9" cy="2085.9" r="6"/><circle cx="1315.8" cy="2085.1" r="6"/><circle cx="1311.0" cy="2083.1" r="6"/><circle cx="1316.6" cy="2083.0" r="6"/><circle cx="1317.9" cy="2080.8" r="6"/><circle cx="1313.9" cy="2079.3" r="6"/><circle cx="1318.1" cy="2077.1" r="6"/><circle cx="1319.4" cy="2076.8" r="6"/><circle cx="1316.0" cy="2076.2" r="6"/><circle cx="1315.9" cy="2075.6" r="6"/><circle cx="1320.2" cy="2075.6" r="6"/><circle cx="1317.9" cy="2070.7" r="6"/><circle cx="1316.0" cy="2070.4" r="6"/><circle cx="1320.9" cy="2066.1" r="6"/><circle cx="1311.6" cy="2065.5" r="6"/><circle cx="1318.4" cy="2062.9" r="6"/><circle cx="1312.5" cy="2062.3" r="6"/><circle cx="1316.9" cy="2060.7" r="6"/><circle cx="1313.2" cy="2059.0" r="6"/><circle cx="1315.2" cy="2057.7" r="6"/><circle cx="1318.3" cy="2056.5" r="6"/><circle cx="1318.4" cy="2054.1" r="6"/><circle cx="1318.5" cy="2054.0" r="6"/><circle cx="1313.4" cy="2050.6" r="6"/><circle cx="1315.7" cy="2046.0" r="6"/><circle cx="1314.2" cy="2042.8" r="6"/><circle cx="1316.2" cy="2041.3" r="6"/><circle cx="1315.8" cy="2040.0" r="6"/><circle cx="1312.5" cy="2030.4" r="6"/><circle cx="1316.6" cy="2027.2" r="6"/><circle cx="1317.6" cy="2026.4" r="6"/><circle cx="1316.5" cy="2025.1" r="6"/><circle cx="1319.2" cy="2025.1" r="6"/><circle cx="1312.8" cy="2024.5" r="6"/><circle cx="1312.3" cy="2022.2" r="6"/><circle cx="1310.0" cy="2017.3" r="6"/><circle cx="1315.8" cy="2017.0" r="6"/><circle cx="1315.0" cy="2015.9" r="6"/><circle cx="1315.1" cy="2015.1" r="6"/><circle cx="1313.1" cy="2013.5" r="6"/><circle cx="1318.8" cy="2011.6" r="6"/><circle cx="1311.5" cy="2009.0" r="6"/><circle cx="1319.9" cy="2008.4" r="6"/><circle cx="1316.5" cy="2008.1" r="6"/><circle cx="1316.2" cy="2006.5" r="6"/><circle cx="1318.1" cy="2003.3" r="6"/><circle cx="1314.1" cy="2001.4" r="6"/><circle cx="1313.8" cy="1998.6" r="6"/></g>
<g fill="#9c9ca2" fill-opacity="0.85" stroke="#1c1c1c" stroke-opacity="0.9" stroke-width="1.15"><circle cx="1431.2" cy="2445.3" r="6"/><circle cx="1434.7" cy="2445.7" r="6"/><circle cx="1436.5" cy="2445.3" r="6"/><circle cx="1439.4" cy="2445.2" r="6"/><circle cx="1442.5" cy="2445.1" r="6"/><circle cx="1444.4" cy="2445.0" r="6"/><circle cx="1447.3" cy="2446.0" r="6"/><circle cx="1450.0" cy="2445.6" r="6"/><circle cx="1454.1" cy="2445.6" r="6"/><circle cx="1455.7" cy="2446.2" r="6"/><circle cx="1459.8" cy="2445.0" r="6"/><circle cx="1461.3" cy="2445.7" r="6"/><circle cx="1465.2" cy="2445.5" r="6"/><circle cx="1467.8" cy="2445.3" r="6"/><circle cx="1470.5" cy="2445.4" r="6"/><circle cx="1472.5" cy="2446.0" r="6"/><circle cx="1476.3" cy="2446.1" r="6"/><circle cx="1478.5" cy="2445.5" r="6"/><circle cx="1481.5" cy="2445.8" r="6"/><circle cx="1484.5" cy="2446.1" r="6"/><circle cx="1485.9" cy="2445.5" r="6"/><circle cx="1489.7" cy="2445.2" r="6"/><circle cx="1491.6" cy="2444.9" r="6"/><circle cx="1495.1" cy="2446.3" r="6"/><circle cx="1498.6" cy="2445.1" r="6"/><circle cx="1500.8" cy="2445.5" r="6"/><circle cx="1503.5" cy="2445.5" r="6"/><circle cx="1506.8" cy="2446.4" r="6"/><circle cx="1507.9" cy="2446.0" r="6"/><circle cx="1510.8" cy="2445.0" r="6"/><circle cx="1513.8" cy="2446.0" r="6"/><circle cx="1518.0" cy="2445.1" r="6"/><circle cx="1519.4" cy="2444.9" r="6"/><circle cx="1522.6" cy="2445.6" r="6"/><circle cx="1440.0" cy="2435.8" r="6"/><circle cx="1481.0" cy="2435.8" r="6"/><circle cx="1489.0" cy="2442.4" r="6"/><circle cx="1475.2" cy="2440.0" r="6"/><circle cx="1474.6" cy="2439.0" r="6"/><circle cx="1478.1" cy="2438.7" r="6"/><circle cx="1478.4" cy="2438.5" r="6"/><circle cx="1474.3" cy="2437.1" r="6"/><circle cx="1475.1" cy="2434.8" r="6"/><circle cx="1477.3" cy="2430.9" r="6"/><circle cx="1478.8" cy="2430.1" r="6"/><circle cx="1481.1" cy="2428.1" r="6"/><circle cx="1474.9" cy="2426.0" r="6"/><circle cx="1477.9" cy="2424.9" r="6"/><circle cx="1476.5" cy="2422.6" r="6"/><circle cx="1479.2" cy="2421.7" r="6"/><circle cx="1472.2" cy="2421.6" r="6"/><circle cx="1472.8" cy="2417.9" r="6"/><circle cx="1472.4" cy="2415.4" r="6"/><circle cx="1480.0" cy="2415.3" r="6"/><circle cx="1473.9" cy="2414.1" r="6"/><circle cx="1475.9" cy="2412.4" r="6"/><circle cx="1472.5" cy="2412.0" r="6"/><circle cx="1474.4" cy="2407.4" r="6"/><circle cx="1472.6" cy="2401.2" r="6"/><circle cx="1476.5" cy="2401.0" r="6"/><circle cx="1474.0" cy="2397.3" r="6"/><circle cx="1476.8" cy="2396.9" r="6"/><circle cx="1474.6" cy="2396.5" r="6"/><circle cx="1474.3" cy="2393.6" r="6"/><circle cx="1475.9" cy="2385.4" r="6"/><circle cx="1475.1" cy="2381.9" r="6"/><circle cx="1474.5" cy="2378.2" r="6"/><circle cx="1473.1" cy="2377.9" r="6"/><circle cx="1472.6" cy="2374.3" r="6"/><circle cx="1479.1" cy="2373.9" r="6"/><circle cx="1474.7" cy="2371.9" r="6"/><circle cx="1471.8" cy="2367.3" r="6"/><circle cx="1472.6" cy="2366.0" r="6"/><circle cx="1475.8" cy="2365.4" r="6"/><circle cx="1481.3" cy="2358.4" r="6"/><circle cx="1472.8" cy="2357.7" r="6"/><circle cx="1479.9" cy="2357.0" r="6"/><circle cx="1475.8" cy="2355.9" r="6"/><circle cx="1475.0" cy="2355.6" r="6"/><circle cx="1479.3" cy="2354.8" r="6"/><circle cx="1474.9" cy="2354.7" r="6"/><circle cx="1470.6" cy="2354.3" r="6"/><circle cx="1476.6" cy="2351.6" r="6"/><circle cx="1477.8" cy="2351.4" r="6"/><circle cx="1477.4" cy="2348.6" r="6"/><circle cx="1473.8" cy="2344.8" r="6"/><circle cx="1479.4" cy="2342.6" r="6"/><circle cx="1478.8" cy="2342.6" r="6"/><circle cx="1479.5" cy="2342.2" r="6"/><circle cx="1475.6" cy="2336.6" r="6"/><circle cx="1478.4" cy="2331.6" r="6"/><circle cx="1477.1" cy="2329.5" r="6"/><circle cx="1474.2" cy="2329.2" r="6"/><circle cx="1472.6" cy="2321.7" r="6"/><circle cx="1473.7" cy="2321.1" r="6"/><circle cx="1473.0" cy="2317.6" r="6"/><circle cx="1472.7" cy="2316.2" r="6"/><circle cx="1474.7" cy="2313.8" r="6"/><circle cx="1478.7" cy="2311.4" r="6"/><circle cx="1473.7" cy="2309.3" r="6"/><circle cx="1476.2" cy="2308.5" r="6"/><circle cx="1470.1" cy="2308.4" r="6"/><circle cx="1471.9" cy="2305.3" r="6"/><circle cx="1482.2" cy="2304.0" r="6"/><circle cx="1469.4" cy="2302.4" r="6"/><circle cx="1476.3" cy="2301.5" r="6"/><circle cx="1480.4" cy="2299.8" r="6"/><circle cx="1480.2" cy="2298.4" r="6"/><circle cx="1479.4" cy="2298.2" r="6"/><circle cx="1474.6" cy="2298.2" r="6"/><circle cx="1480.3" cy="2297.5" r="6"/><circle cx="1480.2" cy="2294.8" r="6"/><circle cx="1479.6" cy="2294.8" r="6"/><circle cx="1482.6" cy="2294.2" r="6"/><circle cx="1470.6" cy="2293.6" r="6"/><circle cx="1481.5" cy="2288.4" r="6"/><circle cx="1474.8" cy="2288.3" r="6"/><circle cx="1478.3" cy="2287.6" r="6"/><circle cx="1473.7" cy="2284.1" r="6"/><circle cx="1479.5" cy="2283.0" r="6"/><circle cx="1473.0" cy="2281.5" r="6"/><circle cx="1476.5" cy="2278.3" r="6"/><circle cx="1474.3" cy="2274.9" r="6"/><circle cx="1474.9" cy="2266.5" r="6"/><circle cx="1474.7" cy="2263.5" r="6"/><circle cx="1477.6" cy="2263.4" r="6"/><circle cx="1478.9" cy="2263.0" r="6"/><circle cx="1474.7" cy="2262.5" r="6"/><circle cx="1477.3" cy="2261.6" r="6"/><circle cx="1474.7" cy="2260.2" r="6"/><circle cx="1474.0" cy="2259.6" r="6"/><circle cx="1480.0" cy="2256.9" r="6"/><circle cx="1474.1" cy="2255.5" r="6"/><circle cx="1471.4" cy="2255.1" r="6"/><circle cx="1474.1" cy="2254.8" r="6"/><circle cx="1478.1" cy="2247.8" r="6"/><circle cx="1473.5" cy="2243.7" r="6"/><circle cx="1477.9" cy="2243.5" r="6"/><circle cx="1476.3" cy="2242.2" r="6"/><circle cx="1477.1" cy="2241.9" r="6"/><circle cx="1473.9" cy="2241.9" r="6"/><circle cx="1473.2" cy="2241.3" r="6"/><circle cx="1473.0" cy="2234.5" r="6"/><circle cx="1475.0" cy="2230.0" r="6"/><circle cx="1475.6" cy="2225.1" r="6"/><circle cx="1472.9" cy="2224.2" r="6"/><circle cx="1476.0" cy="2223.9" r="6"/><circle cx="1475.4" cy="2222.4" r="6"/><circle cx="1474.6" cy="2220.2" r="6"/><circle cx="1476.3" cy="2215.5" r="6"/><circle cx="1479.2" cy="2211.1" r="6"/><circle cx="1474.1" cy="2210.1" r="6"/><circle cx="1478.7" cy="2209.0" r="6"/><circle cx="1474.7" cy="2207.3" r="6"/><circle cx="1478.0" cy="2204.2" r="6"/><circle cx="1472.4" cy="2199.8" r="6"/><circle cx="1480.5" cy="2197.2" r="6"/><circle cx="1475.4" cy="2196.0" r="6"/><circle cx="1480.3" cy="2195.0" r="6"/><circle cx="1473.6" cy="2192.1" r="6"/><circle cx="1475.2" cy="2191.4" r="6"/><circle cx="1478.1" cy="2189.5" r="6"/><circle cx="1473.0" cy="2187.4" r="6"/><circle cx="1473.9" cy="2185.8" r="6"/><circle cx="1477.4" cy="2183.8" r="6"/><circle cx="1479.5" cy="2183.4" r="6"/><circle cx="1474.6" cy="2178.4" r="6"/><circle cx="1473.5" cy="2178.0" r="6"/><circle cx="1475.3" cy="2171.1" r="6"/><circle cx="1478.4" cy="2170.6" r="6"/><circle cx="1473.0" cy="2167.7" r="6"/><circle cx="1477.1" cy="2160.3" r="6"/><circle cx="1475.1" cy="2158.7" r="6"/><circle cx="1477.0" cy="2158.4" r="6"/><circle cx="1473.8" cy="2157.6" r="6"/><circle cx="1476.9" cy="2156.8" r="6"/><circle cx="1479.0" cy="2156.5" r="6"/><circle cx="1478.8" cy="2154.4" r="6"/><circle cx="1477.2" cy="2151.2" r="6"/><circle cx="1476.1" cy="2146.0" r="6"/><circle cx="1476.6" cy="2144.6" r="6"/><circle cx="1472.4" cy="2140.0" r="6"/><circle cx="1479.4" cy="2139.7" r="6"/><circle cx="1477.9" cy="2138.8" r="6"/><circle cx="1475.5" cy="2137.0" r="6"/><circle cx="1477.6" cy="2136.0" r="6"/><circle cx="1475.2" cy="2135.3" r="6"/><circle cx="1474.9" cy="2135.2" r="6"/><circle cx="1473.5" cy="2133.9" r="6"/><circle cx="1477.1" cy="2129.3" r="6"/><circle cx="1476.8" cy="2128.2" r="6"/><circle cx="1476.2" cy="2127.7" r="6"/><circle cx="1471.7" cy="2120.8" r="6"/><circle cx="1477.2" cy="2120.3" r="6"/><circle cx="1475.5" cy="2119.0" r="6"/><circle cx="1476.9" cy="2116.5" r="6"/><circle cx="1476.7" cy="2115.0" r="6"/><circle cx="1479.7" cy="2114.0" r="6"/><circle cx="1473.0" cy="2112.7" r="6"/><circle cx="1475.7" cy="2109.5" r="6"/><circle cx="1480.2" cy="2109.4" r="6"/><circle cx="1477.7" cy="2105.5" r="6"/><circle cx="1474.8" cy="2102.9" r="6"/><circle cx="1477.2" cy="2096.9" r="6"/><circle cx="1478.1" cy="2093.5" r="6"/><circle cx="1475.7" cy="2089.5" r="6"/><circle cx="1477.5" cy="2087.6" r="6"/><circle cx="1473.9" cy="2075.8" r="6"/><circle cx="1478.4" cy="2075.5" r="6"/><circle cx="1476.0" cy="2075.4" r="6"/><circle cx="1474.7" cy="2070.8" r="6"/><circle cx="1477.7" cy="2070.7" r="6"/><circle cx="1476.7" cy="2069.6" r="6"/><circle cx="1478.5" cy="2057.2" r="6"/><circle cx="1477.9" cy="2055.2" r="6"/><circle cx="1478.1" cy="2052.8" r="6"/><circle cx="1476.1" cy="2050.3" r="6"/><circle cx="1480.9" cy="2046.8" r="6"/><circle cx="1471.0" cy="2045.9" r="6"/><circle cx="1480.2" cy="2045.7" r="6"/><circle cx="1478.1" cy="2041.9" r="6"/><circle cx="1473.5" cy="2041.5" r="6"/><circle cx="1479.1" cy="2039.2" r="6"/><circle cx="1475.5" cy="2038.7" r="6"/><circle cx="1476.3" cy="2037.2" r="6"/><circle cx="1479.4" cy="2035.7" r="6"/><circle cx="1473.2" cy="2035.0" r="6"/><circle cx="1474.0" cy="2034.7" r="6"/><circle cx="1477.2" cy="2027.9" r="6"/><circle cx="1473.0" cy="2023.2" r="6"/><circle cx="1476.3" cy="2020.2" r="6"/><circle cx="1477.6" cy="2018.9" r="6"/><circle cx="1475.9" cy="2017.4" r="6"/><circle cx="1474.7" cy="2014.6" r="6"/><circle cx="1477.5" cy="2013.4" r="6"/><circle cx="1476.5" cy="1994.8" r="6"/></g>
<g fill="#fbe1e1" fill-opacity="0.85" stroke="#4a3a3a" stroke-opacity="0.9" stroke-width="1.15"><circle cx="1593.0" cy="2446.3" r="6"/><circle cx="1595.8" cy="2445.5" r="6"/><circle cx="1600.2" cy="2446.2" r="6"/><circle cx="1602.8" cy="2446.2" r="6"/><circle cx="1607.3" cy="2444.9" r="6"/><circle cx="1610.8" cy="2445.5" r="6"/><circle cx="1615.0" cy="2446.3" r="6"/><circle cx="1618.2" cy="2445.9" r="6"/><circle cx="1621.5" cy="2446.1" r="6"/><circle cx="1624.4" cy="2446.0" r="6"/><circle cx="1628.2" cy="2445.8" r="6"/><circle cx="1631.9" cy="2445.4" r="6"/><circle cx="1635.4" cy="2445.4" r="6"/><circle cx="1640.1" cy="2445.7" r="6"/><circle cx="1643.2" cy="2445.8" r="6"/><circle cx="1648.0" cy="2445.4" r="6"/><circle cx="1651.0" cy="2445.6" r="6"/><circle cx="1655.6" cy="2445.4" r="6"/><circle cx="1658.5" cy="2445.3" r="6"/><circle cx="1661.0" cy="2446.0" r="6"/><circle cx="1665.4" cy="2445.3" r="6"/><circle cx="1667.8" cy="2446.1" r="6"/><circle cx="1672.2" cy="2446.0" r="6"/><circle cx="1675.9" cy="2445.8" r="6"/><circle cx="1679.9" cy="2446.4" r="6"/><circle cx="1684.4" cy="2445.6" r="6"/><circle cx="1611.1" cy="2439.5" r="6"/><circle cx="1637.2" cy="2441.0" r="6"/><circle cx="1636.2" cy="2439.8" r="6"/><circle cx="1638.7" cy="2434.2" r="6"/><circle cx="1635.1" cy="2433.9" r="6"/><circle cx="1636.1" cy="2432.2" r="6"/><circle cx="1639.3" cy="2427.3" r="6"/><circle cx="1633.3" cy="2423.3" r="6"/><circle cx="1638.8" cy="2421.5" r="6"/><circle cx="1637.8" cy="2415.6" r="6"/><circle cx="1637.7" cy="2414.9" r="6"/><circle cx="1636.0" cy="2413.6" r="6"/><circle cx="1634.6" cy="2413.1" r="6"/><circle cx="1640.8" cy="2412.8" r="6"/><circle cx="1639.2" cy="2411.4" r="6"/><circle cx="1639.2" cy="2407.8" r="6"/><circle cx="1634.7" cy="2403.4" r="6"/><circle cx="1638.5" cy="2393.3" r="6"/><circle cx="1636.1" cy="2389.0" r="6"/><circle cx="1635.8" cy="2382.6" r="6"/><circle cx="1637.5" cy="2382.0" r="6"/><circle cx="1638.0" cy="2379.8" r="6"/><circle cx="1634.9" cy="2373.0" r="6"/><circle cx="1639.0" cy="2370.5" r="6"/><circle cx="1637.8" cy="2368.7" r="6"/><circle cx="1639.8" cy="2368.2" r="6"/><circle cx="1639.7" cy="2367.5" r="6"/><circle cx="1638.2" cy="2360.8" r="6"/><circle cx="1636.6" cy="2357.5" r="6"/><circle cx="1639.2" cy="2347.7" r="6"/><circle cx="1638.1" cy="2345.6" r="6"/><circle cx="1636.4" cy="2344.5" r="6"/><circle cx="1639.1" cy="2339.7" r="6"/><circle cx="1638.6" cy="2333.2" r="6"/><circle cx="1636.1" cy="2331.7" r="6"/><circle cx="1635.9" cy="2325.6" r="6"/><circle cx="1634.6" cy="2324.3" r="6"/><circle cx="1637.5" cy="2323.0" r="6"/><circle cx="1635.7" cy="2319.1" r="6"/><circle cx="1636.0" cy="2314.1" r="6"/><circle cx="1635.9" cy="2311.9" r="6"/><circle cx="1635.5" cy="2310.7" r="6"/><circle cx="1637.2" cy="2310.4" r="6"/><circle cx="1635.9" cy="2302.1" r="6"/><circle cx="1636.4" cy="2297.0" r="6"/><circle cx="1636.2" cy="2292.6" r="6"/><circle cx="1637.3" cy="2292.0" r="6"/><circle cx="1639.7" cy="2290.9" r="6"/><circle cx="1634.9" cy="2282.0" r="6"/><circle cx="1639.6" cy="2280.2" r="6"/><circle cx="1639.8" cy="2279.2" r="6"/><circle cx="1638.1" cy="2278.2" r="6"/><circle cx="1637.6" cy="2278.1" r="6"/><circle cx="1639.0" cy="2276.7" r="6"/><circle cx="1637.7" cy="2268.5" r="6"/><circle cx="1639.1" cy="2267.6" r="6"/><circle cx="1642.4" cy="2266.7" r="6"/><circle cx="1640.0" cy="2263.6" r="6"/><circle cx="1634.9" cy="2262.2" r="6"/><circle cx="1632.9" cy="2262.0" r="6"/><circle cx="1641.6" cy="2261.5" r="6"/><circle cx="1635.9" cy="2260.6" r="6"/><circle cx="1640.2" cy="2260.5" r="6"/><circle cx="1634.6" cy="2259.7" r="6"/><circle cx="1636.8" cy="2257.6" r="6"/><circle cx="1636.0" cy="2255.8" r="6"/><circle cx="1639.6" cy="2255.1" r="6"/><circle cx="1640.8" cy="2245.6" r="6"/><circle cx="1637.3" cy="2245.0" r="6"/><circle cx="1637.8" cy="2239.3" r="6"/><circle cx="1636.2" cy="2239.1" r="6"/><circle cx="1635.4" cy="2238.2" r="6"/><circle cx="1640.5" cy="2237.6" r="6"/><circle cx="1634.3" cy="2237.0" r="6"/><circle cx="1640.7" cy="2236.2" r="6"/><circle cx="1638.5" cy="2229.2" r="6"/><circle cx="1634.3" cy="2225.6" r="6"/><circle cx="1641.0" cy="2221.5" r="6"/><circle cx="1633.3" cy="2221.0" r="6"/><circle cx="1638.3" cy="2216.2" r="6"/><circle cx="1631.3" cy="2216.1" r="6"/><circle cx="1645.3" cy="2215.1" r="6"/><circle cx="1634.2" cy="2212.4" r="6"/><circle cx="1643.4" cy="2212.3" r="6"/><circle cx="1630.1" cy="2212.1" r="6"/><circle cx="1640.0" cy="2211.9" r="6"/><circle cx="1630.0" cy="2209.8" r="6"/><circle cx="1629.6" cy="2209.5" r="6"/><circle cx="1638.5" cy="2208.3" r="6"/><circle cx="1645.5" cy="2207.4" r="6"/><circle cx="1640.4" cy="2207.3" r="6"/><circle cx="1643.3" cy="2207.0" r="6"/><circle cx="1642.1" cy="2206.6" r="6"/><circle cx="1637.7" cy="2206.6" r="6"/><circle cx="1630.1" cy="2205.8" r="6"/><circle cx="1637.8" cy="2204.9" r="6"/><circle cx="1631.9" cy="2204.9" r="6"/><circle cx="1637.8" cy="2203.9" r="6"/><circle cx="1634.8" cy="2201.0" r="6"/><circle cx="1637.3" cy="2199.7" r="6"/><circle cx="1632.8" cy="2197.7" r="6"/><circle cx="1640.2" cy="2196.0" r="6"/><circle cx="1636.1" cy="2195.8" r="6"/><circle cx="1637.1" cy="2194.8" r="6"/><circle cx="1632.5" cy="2194.3" r="6"/><circle cx="1637.2" cy="2193.7" r="6"/><circle cx="1638.0" cy="2190.3" r="6"/><circle cx="1643.4" cy="2186.0" r="6"/><circle cx="1638.0" cy="2184.1" r="6"/><circle cx="1633.4" cy="2181.6" r="6"/><circle cx="1635.0" cy="2180.5" r="6"/><circle cx="1635.4" cy="2180.3" r="6"/><circle cx="1639.6" cy="2179.2" r="6"/><circle cx="1642.3" cy="2177.5" r="6"/><circle cx="1642.7" cy="2177.0" r="6"/><circle cx="1642.4" cy="2176.4" r="6"/><circle cx="1642.1" cy="2175.6" r="6"/><circle cx="1640.9" cy="2172.0" r="6"/><circle cx="1641.9" cy="2171.8" r="6"/><circle cx="1631.5" cy="2170.2" r="6"/><circle cx="1637.2" cy="2169.0" r="6"/><circle cx="1638.5" cy="2166.7" r="6"/><circle cx="1639.7" cy="2160.1" r="6"/><circle cx="1638.7" cy="2159.5" r="6"/><circle cx="1638.7" cy="2158.4" r="6"/><circle cx="1642.6" cy="2157.3" r="6"/><circle cx="1632.3" cy="2157.2" r="6"/><circle cx="1637.5" cy="2156.4" r="6"/><circle cx="1642.9" cy="2156.1" r="6"/><circle cx="1631.6" cy="2155.7" r="6"/><circle cx="1632.9" cy="2154.9" r="6"/><circle cx="1642.3" cy="2153.6" r="6"/><circle cx="1644.5" cy="2153.3" r="6"/><circle cx="1629.8" cy="2153.3" r="6"/><circle cx="1629.9" cy="2153.1" r="6"/><circle cx="1642.9" cy="2145.7" r="6"/><circle cx="1640.5" cy="2145.3" r="6"/><circle cx="1637.6" cy="2142.8" r="6"/><circle cx="1638.7" cy="2142.5" r="6"/><circle cx="1641.7" cy="2141.9" r="6"/><circle cx="1642.5" cy="2141.6" r="6"/><circle cx="1628.8" cy="2141.6" r="6"/><circle cx="1630.0" cy="2141.5" r="6"/><circle cx="1642.3" cy="2139.8" r="6"/><circle cx="1645.4" cy="2139.1" r="6"/><circle cx="1643.0" cy="2139.1" r="6"/><circle cx="1635.7" cy="2138.8" r="6"/><circle cx="1634.5" cy="2138.3" r="6"/><circle cx="1634.7" cy="2136.3" r="6"/><circle cx="1629.1" cy="2136.1" r="6"/><circle cx="1641.9" cy="2135.9" r="6"/><circle cx="1633.3" cy="2135.2" r="6"/><circle cx="1638.8" cy="2133.9" r="6"/><circle cx="1637.7" cy="2133.8" r="6"/><circle cx="1634.5" cy="2131.5" r="6"/><circle cx="1640.3" cy="2130.4" r="6"/><circle cx="1636.7" cy="2129.3" r="6"/><circle cx="1633.3" cy="2128.8" r="6"/><circle cx="1642.5" cy="2126.2" r="6"/><circle cx="1632.9" cy="2123.1" r="6"/><circle cx="1632.6" cy="2121.7" r="6"/><circle cx="1633.8" cy="2119.0" r="6"/><circle cx="1637.0" cy="2117.1" r="6"/><circle cx="1641.1" cy="2116.8" r="6"/><circle cx="1634.8" cy="2116.0" r="6"/><circle cx="1632.9" cy="2114.6" r="6"/><circle cx="1639.9" cy="2113.9" r="6"/><circle cx="1633.2" cy="2113.5" r="6"/><circle cx="1637.7" cy="2112.1" r="6"/><circle cx="1633.1" cy="2112.1" r="6"/><circle cx="1643.7" cy="2111.2" r="6"/><circle cx="1631.9" cy="2110.3" r="6"/><circle cx="1632.7" cy="2108.2" r="6"/><circle cx="1633.9" cy="2107.7" r="6"/><circle cx="1634.4" cy="2107.0" r="6"/><circle cx="1641.1" cy="2106.3" r="6"/><circle cx="1640.3" cy="2104.5" r="6"/><circle cx="1642.2" cy="2104.3" r="6"/><circle cx="1638.0" cy="2103.5" r="6"/><circle cx="1630.1" cy="2103.3" r="6"/><circle cx="1641.8" cy="2103.1" r="6"/><circle cx="1633.0" cy="2102.8" r="6"/><circle cx="1632.5" cy="2102.5" r="6"/><circle cx="1635.8" cy="2101.9" r="6"/><circle cx="1645.6" cy="2101.7" r="6"/><circle cx="1635.1" cy="2101.1" r="6"/><circle cx="1634.9" cy="2099.9" r="6"/><circle cx="1644.3" cy="2093.2" r="6"/><circle cx="1645.6" cy="2091.8" r="6"/><circle cx="1635.4" cy="2090.9" r="6"/><circle cx="1631.1" cy="2090.5" r="6"/><circle cx="1642.2" cy="2090.0" r="6"/><circle cx="1642.1" cy="2089.3" r="6"/><circle cx="1634.5" cy="2089.2" r="6"/><circle cx="1642.2" cy="2087.5" r="6"/><circle cx="1635.3" cy="2087.1" r="6"/><circle cx="1633.7" cy="2086.5" r="6"/><circle cx="1638.9" cy="2086.1" r="6"/><circle cx="1641.4" cy="2086.1" r="6"/><circle cx="1636.9" cy="2085.0" r="6"/><circle cx="1642.7" cy="2083.9" r="6"/><circle cx="1629.0" cy="2083.4" r="6"/><circle cx="1637.3" cy="2083.3" r="6"/><circle cx="1635.3" cy="2083.1" r="6"/><circle cx="1629.9" cy="2082.8" r="6"/><circle cx="1644.3" cy="2080.9" r="6"/><circle cx="1631.2" cy="2080.8" r="6"/><circle cx="1632.3" cy="2080.6" r="6"/><circle cx="1643.7" cy="2080.5" r="6"/><circle cx="1645.1" cy="2080.2" r="6"/><circle cx="1644.6" cy="2078.0" r="6"/><circle cx="1634.6" cy="2076.3" r="6"/><circle cx="1644.6" cy="2075.6" r="6"/><circle cx="1631.2" cy="2075.4" r="6"/><circle cx="1640.9" cy="2075.0" r="6"/><circle cx="1644.9" cy="2074.4" r="6"/><circle cx="1632.1" cy="2072.5" r="6"/><circle cx="1631.1" cy="2072.0" r="6"/><circle cx="1640.3" cy="2071.8" r="6"/><circle cx="1643.8" cy="2071.1" r="6"/><circle cx="1641.0" cy="2070.1" r="6"/><circle cx="1644.9" cy="2069.4" r="6"/><circle cx="1636.6" cy="2067.9" r="6"/><circle cx="1635.4" cy="2066.5" r="6"/><circle cx="1631.9" cy="2063.0" r="6"/><circle cx="1634.2" cy="2061.5" r="6"/><circle cx="1642.6" cy="2059.8" r="6"/><circle cx="1632.4" cy="2057.7" r="6"/><circle cx="1633.9" cy="2056.4" r="6"/><circle cx="1635.8" cy="2054.8" r="6"/><circle cx="1632.2" cy="2053.0" r="6"/><circle cx="1635.1" cy="2052.3" r="6"/><circle cx="1633.5" cy="2051.5" r="6"/><circle cx="1632.7" cy="2051.5" r="6"/><circle cx="1637.6" cy="2048.3" r="6"/><circle cx="1637.8" cy="2046.2" r="6"/><circle cx="1638.2" cy="2042.2" r="6"/><circle cx="1641.0" cy="2041.8" r="6"/><circle cx="1637.7" cy="2041.5" r="6"/><circle cx="1643.0" cy="2040.0" r="6"/><circle cx="1632.5" cy="2038.5" r="6"/><circle cx="1633.7" cy="2037.7" r="6"/><circle cx="1631.9" cy="2036.0" r="6"/><circle cx="1635.0" cy="2033.9" r="6"/><circle cx="1641.0" cy="2032.2" r="6"/><circle cx="1643.4" cy="2031.8" r="6"/><circle cx="1637.4" cy="2031.7" r="6"/><circle cx="1632.4" cy="2031.4" r="6"/><circle cx="1635.0" cy="2030.1" r="6"/><circle cx="1638.3" cy="2026.1" r="6"/><circle cx="1634.4" cy="2025.9" r="6"/><circle cx="1641.5" cy="2025.1" r="6"/><circle cx="1644.4" cy="2020.8" r="6"/><circle cx="1636.7" cy="2020.7" r="6"/><circle cx="1638.8" cy="2020.5" r="6"/><circle cx="1641.2" cy="2017.9" r="6"/><circle cx="1636.9" cy="2017.6" r="6"/><circle cx="1633.3" cy="2016.3" r="6"/><circle cx="1643.3" cy="2015.7" r="6"/><circle cx="1643.8" cy="2015.5" r="6"/><circle cx="1631.2" cy="2013.6" r="6"/><circle cx="1641.1" cy="2012.3" r="6"/><circle cx="1635.9" cy="2011.3" r="6"/><circle cx="1630.3" cy="2010.2" r="6"/><circle cx="1632.7" cy="2005.7" r="6"/><circle cx="1632.9" cy="2004.9" r="6"/><circle cx="1640.3" cy="2004.2" r="6"/><circle cx="1634.0" cy="2002.4" r="6"/><circle cx="1632.2" cy="2001.5" r="6"/><circle cx="1634.3" cy="2001.0" r="6"/><circle cx="1640.5" cy="2000.6" r="6"/><circle cx="1637.3" cy="1998.9" r="6"/><circle cx="1638.7" cy="1998.7" r="6"/><circle cx="1637.0" cy="1998.1" r="6"/><circle cx="1634.6" cy="1997.2" r="6"/></g>
<g stroke="#000" stroke-width="3" fill="none">
<path d="M1047.5 1972.1 V2445.2"/>
<path d="M1038 2445.2 H1746"/>
<path d="M1038 1973.6 H1047.5"/>
<path d="M1038 2091.5 H1047.5"/>
<path d="M1038 2209.4 H1047.5"/>
<path d="M1038 2327.3 H1047.5"/>
</g>
<text x="1027.8" y="1980.0" font-size="38" text-anchor="end">1.00</text>
<text x="1027.8" y="2097.9" font-size="38" text-anchor="end">0.75</text>
<text x="1027.8" y="2215.8" font-size="38" text-anchor="end">0.50</text>
<text x="1027.8" y="2333.7" font-size="38" text-anchor="end">0.25</text>
<text x="1027.8" y="2451.6" font-size="38" text-anchor="end">0.00</text>
<text transform="translate(939.3,2190.6) rotate(-90)" font-size="37.7" text-anchor="middle">Positive correlations</text>
<text x="1164.9" y="2491.8" font-size="38.7" text-anchor="middle">D1-NT</text>
<text x="1323.1" y="2491.8" font-size="38.7" text-anchor="middle">D1-T</text>
<text x="1488.3" y="2491.8" font-size="38.7" text-anchor="middle">D14-NT</text>
<text x="1647.6" y="2491.8" font-size="38.7" text-anchor="middle">D14-T</text>
<path d="M1315 1916.3 H1637.1 M1482.6 1954.7 H1637.1" stroke="#000" stroke-width="3"/>
<text stroke="#000" stroke-width="0.8" x="1479" y="1921.2" font-size="40.6" text-anchor="middle">**</text>
<text stroke="#000" stroke-width="0.9" x="1569.8" y="1962.9" font-size="49.6" text-anchor="middle">***</text>
</svg>
</body></html>
